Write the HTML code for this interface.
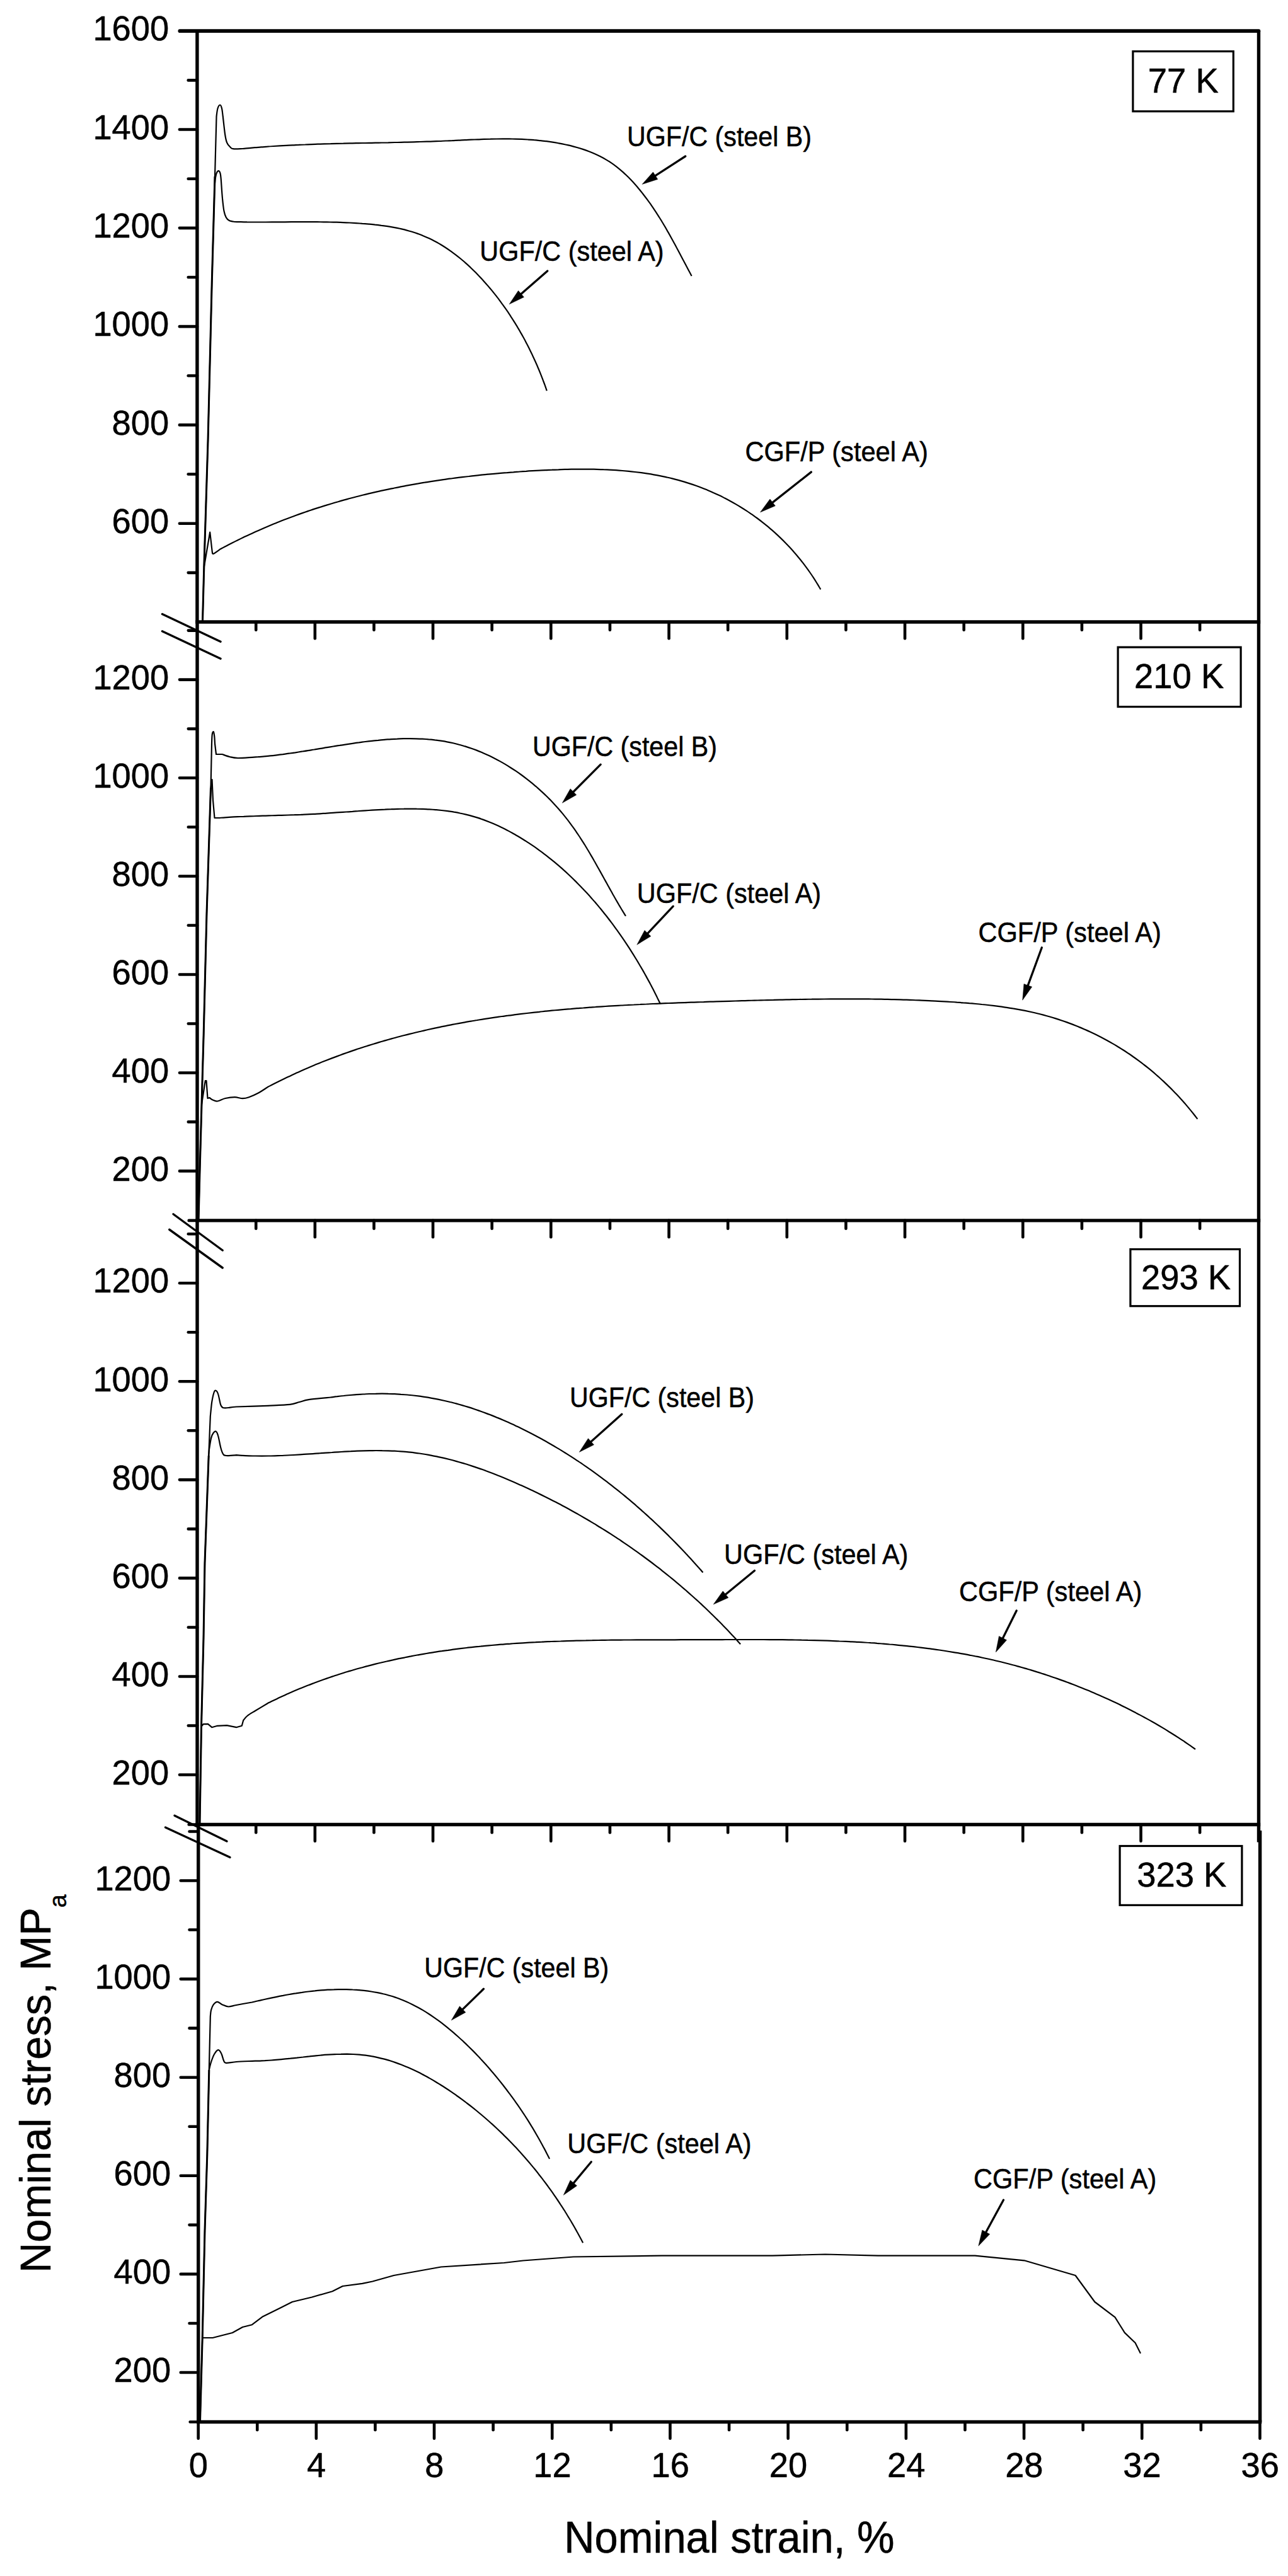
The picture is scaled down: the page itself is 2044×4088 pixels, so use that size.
<!DOCTYPE html>
<html lang="en"><head><meta charset="utf-8"><title>Nominal stress vs nominal strain</title>
<style>html,body{margin:0;padding:0;background:#fff}body{width:2044px;height:4088px;overflow:hidden}svg text{white-space:pre}</style>
</head><body>
<svg width="2044" height="4088" viewBox="0 0 2044 4088" style="display:block">
<rect width="2044" height="4088" fill="#fff"/>
<g id="curves">
<path d="M321.5,986.0L323.8,900.0L330.0,700.0L336.2,450.0L341.0,280.0L343.5,185.0C343.8,182.8 344.5,175.1 345.5,172.0C346.5,168.9 348.2,166.5 349.2,166.5C350.3,166.5 351.2,168.9 352.0,172.0C352.8,175.1 352.9,178.2 353.8,185.0C354.6,191.8 356.0,205.6 357.0,212.5C358.0,219.4 358.7,222.8 360.0,226.2C361.3,229.7 363.3,231.3 365.0,233.0C366.7,234.7 366.7,235.8 370.0,236.2C373.3,236.8 382.5,236.0 385.0,236.0C386.6,235.8 391.5,235.4 394.8,235.1C398.1,234.8 401.4,234.5 404.6,234.2C407.9,233.9 411.2,233.7 414.5,233.4C417.8,233.2 421.1,232.9 424.4,232.7C427.7,232.4 431.0,232.2 434.3,232.0C437.6,231.8 440.9,231.6 444.3,231.4C447.6,231.2 450.9,231.0 454.2,230.8C457.6,230.7 460.9,230.5 464.2,230.3C467.6,230.2 470.9,230.0 474.2,229.9C477.6,229.7 480.9,229.6 484.3,229.5C487.6,229.3 491.0,229.2 494.3,229.1C497.7,229.0 501.1,228.9 504.4,228.7C507.8,228.6 511.2,228.5 514.5,228.4C517.9,228.3 521.3,228.2 524.6,228.2C528.0,228.1 531.4,228.0 534.8,227.9C538.1,227.8 541.5,227.7 544.9,227.7C548.3,227.6 551.7,227.5 555.0,227.4C558.4,227.4 561.8,227.3 565.2,227.2C568.6,227.2 572.0,227.1 575.4,227.0C578.7,227.0 582.1,226.9 585.5,226.8C588.9,226.8 592.3,226.7 595.7,226.6C599.1,226.6 602.5,226.5 605.9,226.5C609.3,226.4 612.7,226.3 616.1,226.3C619.5,226.2 622.9,226.1 626.3,226.0C629.6,226.0 633.0,225.9 636.4,225.8C639.8,225.7 643.2,225.7 646.6,225.6C650.0,225.5 653.4,225.4 656.8,225.3C660.2,225.2 663.6,225.1 667.0,225.0C670.4,224.9 673.8,224.8 677.1,224.7C680.5,224.6 683.9,224.5 687.3,224.3C690.7,224.2 694.1,224.1 697.5,224.0C700.8,223.8 704.2,223.7 707.6,223.5C711.0,223.4 714.4,223.2 717.7,223.1C721.1,222.9 724.5,222.8 727.8,222.6C731.2,222.4 734.6,222.3 737.9,222.1C741.3,222.0 744.7,221.8 748.0,221.7C751.4,221.6 754.7,221.4 758.1,221.3C761.5,221.2 764.8,221.0 768.1,220.9C771.5,220.8 774.8,220.7 778.2,220.7C781.5,220.6 784.9,220.5 788.2,220.5C791.5,220.4 794.8,220.4 798.2,220.4C801.5,220.4 804.8,220.4 808.1,220.4C811.4,220.5 814.8,220.5 818.1,220.6C821.4,220.7 824.7,220.8 828.0,220.9C831.3,221.1 834.6,221.3 837.9,221.5C841.1,221.7 844.4,221.9 847.7,222.2C851.0,222.4 854.3,222.8 857.5,223.1C860.8,223.4 864.0,223.8 867.3,224.2C870.6,224.7 873.8,225.1 877.1,225.6C880.3,226.1 883.5,226.7 886.8,227.3C890.0,227.9 893.2,228.5 896.4,229.2C899.7,229.9 902.9,230.7 906.1,231.4C909.3,232.2 912.5,233.1 915.6,234.0C918.8,234.9 922.0,235.9 925.1,236.9C928.3,238.0 931.4,239.1 934.5,240.3C937.6,241.4 940.6,242.7 943.6,244.0C946.7,245.4 949.7,246.8 952.6,248.3C955.6,249.8 958.5,251.4 961.4,253.1C964.3,254.8 967.1,256.5 969.9,258.4C972.7,260.3 975.4,262.3 978.1,264.3C980.8,266.4 983.4,268.6 986.0,270.8C988.6,273.0 991.1,275.4 993.6,277.8C996.1,280.1 998.6,282.6 1000.9,285.1C1003.3,287.6 1005.7,290.2 1008.0,292.8C1010.3,295.4 1012.5,298.0 1014.7,300.7C1016.9,303.3 1019.0,306.0 1021.1,308.7C1023.2,311.4 1025.3,314.1 1027.3,316.9C1029.3,319.6 1031.2,322.3 1033.2,325.1C1035.1,327.8 1037.0,330.6 1038.8,333.4C1040.7,336.2 1042.5,339.0 1044.3,341.8C1046.1,344.6 1047.8,347.4 1049.6,350.2C1051.3,353.1 1053.0,355.9 1054.7,358.8C1056.4,361.6 1058.0,364.5 1059.6,367.4C1061.3,370.2 1062.9,373.1 1064.5,376.0C1066.1,378.9 1067.7,381.8 1069.3,384.7C1070.9,387.7 1072.5,390.6 1074.0,393.5C1075.6,396.4 1077.2,399.4 1078.7,402.3C1080.3,405.3 1081.8,408.2 1083.4,411.2C1085.0,414.1 1086.5,417.1 1088.1,420.1C1089.7,423.1 1091.2,426.0 1092.8,429.0C1094.4,432.0 1096.8,436.5 1097.6,438.0" fill="none" stroke="#000" stroke-width="2.2" stroke-linejoin="round" stroke-linecap="butt"/>
<path d="M340.6,295.0L341.6,284.0C341.9,282.5 342.7,277.1 343.6,275.0C344.5,272.9 345.8,271.2 346.8,271.2C347.7,271.2 348.8,272.7 349.5,275.0C350.2,277.3 350.2,278.3 350.8,285.0C351.3,291.7 352.2,306.7 353.0,315.0C353.8,323.3 354.5,330.0 355.5,335.0C356.5,340.0 357.4,342.5 358.8,345.0C360.1,347.5 361.5,348.8 363.8,350.0C366.0,351.2 371.0,351.7 372.5,352.0C374.1,352.0 378.9,352.2 382.2,352.2C385.4,352.3 388.7,352.3 392.0,352.4C395.2,352.4 398.5,352.4 401.8,352.5C405.1,352.5 408.4,352.5 411.8,352.5C415.1,352.5 418.4,352.5 421.8,352.5C425.1,352.5 428.5,352.5 431.8,352.4C435.2,352.4 438.6,352.4 441.9,352.4C445.3,352.4 448.7,352.3 452.1,352.3C455.5,352.3 458.9,352.3 462.3,352.2C465.7,352.2 469.1,352.2 472.5,352.2C475.9,352.2 479.4,352.2 482.8,352.2C486.2,352.1 489.6,352.1 493.0,352.2C496.5,352.2 499.9,352.2 503.3,352.2C506.8,352.2 510.2,352.3 513.6,352.3C517.0,352.4 520.5,352.4 523.9,352.5C527.3,352.6 530.8,352.6 534.2,352.7C537.6,352.8 541.0,352.9 544.4,353.1C547.8,353.2 551.3,353.4 554.7,353.5C558.1,353.7 561.5,353.9 564.9,354.1C568.3,354.3 571.7,354.5 575.0,354.8C578.4,355.0 581.8,355.3 585.2,355.6C588.5,355.9 591.9,356.2 595.2,356.6C598.6,356.9 601.9,357.3 605.2,357.8C608.5,358.2 611.8,358.7 615.1,359.2C618.4,359.7 621.7,360.3 624.9,360.9C628.2,361.5 631.4,362.1 634.6,362.8C637.9,363.6 641.1,364.3 644.2,365.1C647.4,366.0 650.5,366.9 653.7,367.8C656.8,368.8 659.9,369.8 663.0,370.9C666.0,372.0 669.1,373.1 672.1,374.4C675.1,375.6 678.1,376.9 681.0,378.3C684.0,379.7 686.9,381.2 689.8,382.7C692.7,384.2 695.6,385.9 698.4,387.5C701.2,389.2 704.0,390.9 706.8,392.7C709.6,394.5 712.3,396.4 715.0,398.3C717.7,400.3 720.4,402.2 723.1,404.3C725.7,406.3 728.4,408.4 730.9,410.5C733.5,412.7 736.1,414.9 738.6,417.1C741.2,419.3 743.7,421.6 746.1,423.9C748.6,426.3 751.0,428.6 753.4,431.0C755.8,433.4 758.2,435.9 760.6,438.4C762.9,440.8 765.2,443.3 767.5,445.9C769.8,448.4 772.1,451.0 774.3,453.6C776.5,456.2 778.7,458.8 780.9,461.4C783.0,464.1 785.2,466.8 787.3,469.4C789.4,472.1 791.5,474.8 793.5,477.6C795.5,480.3 797.5,483.1 799.5,485.9C801.5,488.6 803.5,491.4 805.4,494.2C807.3,497.1 809.2,499.9 811.0,502.8C812.9,505.6 814.7,508.5 816.5,511.4C818.3,514.3 820.1,517.2 821.8,520.1C823.6,523.0 825.3,525.9 826.9,528.9C828.6,531.8 830.2,534.8 831.9,537.8C833.5,540.7 835.0,543.7 836.6,546.7C838.1,549.7 839.7,552.7 841.1,555.8C842.6,558.8 844.1,561.8 845.5,564.9C846.9,567.9 848.3,570.9 849.7,574.0C851.1,577.0 852.4,580.1 853.7,583.2C855.0,586.2 856.3,589.3 857.5,592.4C858.7,595.5 859.9,598.6 861.1,601.6C862.3,604.7 863.4,607.8 864.6,610.9C865.7,614.0 867.3,618.7 867.8,620.2" fill="none" stroke="#000" stroke-width="2.2" stroke-linejoin="round" stroke-linecap="butt"/>
<path d="M323.8,900.0L333.2,844.5L336.8,876.0C337.1,876.5 336.6,879.5 338.8,878.8C340.9,878.0 348.1,872.5 350.0,871.2C351.5,870.5 356.0,868.0 359.0,866.5C362.0,864.9 365.1,863.3 368.1,861.8C371.1,860.3 374.1,858.8 377.2,857.3C380.2,855.8 383.2,854.3 386.3,852.8C389.3,851.4 392.4,849.9 395.5,848.5C398.5,847.1 401.6,845.7 404.6,844.3C407.7,842.9 410.8,841.5 413.9,840.2C417.0,838.8 420.0,837.5 423.1,836.2C426.2,834.9 429.3,833.6 432.4,832.3C435.5,831.0 438.6,829.8 441.8,828.5C444.9,827.3 448.0,826.1 451.1,824.8C454.2,823.6 457.4,822.4 460.5,821.3C463.6,820.1 466.8,818.9 469.9,817.8C473.1,816.6 476.2,815.5 479.4,814.4C482.5,813.3 485.7,812.2 488.8,811.1C492.0,810.0 495.2,809.0 498.3,807.9C501.5,806.9 504.7,805.9 507.9,804.9C511.0,803.8 514.2,802.8 517.4,801.9C520.6,800.9 523.8,799.9 527.0,799.0C530.2,798.0 533.4,797.1 536.6,796.2C539.8,795.2 543.0,794.3 546.3,793.4C549.5,792.5 552.7,791.7 555.9,790.8C559.2,789.9 562.4,789.1 565.6,788.3C568.9,787.4 572.1,786.6 575.3,785.8C578.6,785.0 581.8,784.2 585.1,783.4C588.3,782.7 591.6,781.9 594.8,781.1C598.1,780.4 601.4,779.7 604.6,778.9C607.9,778.2 611.2,777.5 614.4,776.8C617.7,776.1 621.0,775.4 624.3,774.8C627.6,774.1 630.8,773.4 634.1,772.8C637.4,772.2 640.7,771.5 644.0,770.9C647.3,770.3 650.6,769.7 653.9,769.1C657.2,768.5 660.5,767.9 663.8,767.4C667.1,766.8 670.5,766.2 673.8,765.7C677.1,765.1 680.4,764.6 683.7,764.1C687.0,763.6 690.4,763.1 693.7,762.6C697.0,762.1 700.4,761.6 703.7,761.1C707.0,760.6 710.4,760.2 713.7,759.7C717.1,759.3 720.4,758.8 723.7,758.4C727.1,758.0 730.4,757.6 733.8,757.1C737.1,756.7 740.5,756.3 743.9,756.0C747.2,755.6 750.6,755.2 753.9,754.8C757.3,754.5 760.7,754.1 764.0,753.7C767.4,753.4 770.8,753.1 774.1,752.7C777.5,752.4 780.9,752.1 784.3,751.8C787.7,751.5 791.0,751.2 794.4,750.9C797.8,750.6 801.2,750.3 804.6,750.1C808.0,749.8 811.3,749.5 814.7,749.3C818.1,749.0 821.5,748.8 824.9,748.5C828.3,748.3 831.7,748.1 835.1,747.9C838.5,747.6 841.9,747.4 845.3,747.2C848.7,747.0 852.1,746.8 855.5,746.6C858.9,746.5 862.3,746.3 865.8,746.1C869.2,746.0 872.6,745.8 876.0,745.7C879.4,745.5 882.8,745.4 886.2,745.3C889.6,745.1 893.0,745.0 896.4,744.9C899.9,744.9 903.3,744.8 906.7,744.7C910.1,744.7 913.5,744.6 916.9,744.6C920.3,744.6 923.7,744.5 927.1,744.6C930.5,744.6 933.9,744.6 937.3,744.6C940.7,744.7 944.1,744.7 947.4,744.8C950.8,744.9 954.2,745.0 957.6,745.2C961.0,745.3 964.3,745.4 967.7,745.6C971.1,745.8 974.4,746.0 977.8,746.2C981.2,746.5 984.5,746.7 987.9,747.0C991.2,747.3 994.5,747.6 997.9,747.9C1001.2,748.2 1004.5,748.6 1007.8,749.0C1011.2,749.4 1014.5,749.8 1017.8,750.2C1021.1,750.7 1024.4,751.2 1027.7,751.7C1031.0,752.2 1034.2,752.7 1037.5,753.3C1040.8,753.9 1044.0,754.5 1047.3,755.1C1050.5,755.8 1053.8,756.5 1057.0,757.2C1060.2,757.9 1063.5,758.6 1066.7,759.4C1069.9,760.2 1073.1,761.0 1076.3,761.9C1079.4,762.8 1082.6,763.7 1085.8,764.6C1088.9,765.6 1092.1,766.6 1095.2,767.6C1098.4,768.6 1101.5,769.7 1104.6,770.8C1107.7,771.9 1110.8,773.0 1113.9,774.2C1117.0,775.4 1120.1,776.7 1123.1,777.9C1126.2,779.2 1129.2,780.5 1132.2,781.9C1135.3,783.2 1138.3,784.6 1141.3,786.1C1144.3,787.5 1147.2,789.0 1150.2,790.5C1153.1,792.0 1156.1,793.6 1159.0,795.2C1161.9,796.8 1164.8,798.4 1167.7,800.1C1170.5,801.8 1173.4,803.5 1176.2,805.2C1179.1,807.0 1181.9,808.8 1184.7,810.6C1187.5,812.4 1190.2,814.3 1193.0,816.2C1195.7,818.1 1198.4,820.1 1201.1,822.0C1203.8,824.0 1206.5,826.0 1209.1,828.1C1211.8,830.2 1214.4,832.3 1217.0,834.4C1219.6,836.5 1222.1,838.7 1224.7,840.9C1227.2,843.1 1229.7,845.3 1232.2,847.6C1234.7,849.9 1237.1,852.2 1239.6,854.6C1242.0,856.9 1244.4,859.3 1246.7,861.7C1249.1,864.1 1251.4,866.6 1253.7,869.1C1256.0,871.6 1258.3,874.1 1260.5,876.7C1262.8,879.2 1265.0,881.8 1267.1,884.5C1269.3,887.1 1271.4,889.7 1273.5,892.4C1275.6,895.1 1277.7,897.9 1279.7,900.6C1281.8,903.4 1283.8,906.2 1285.7,909.0C1287.7,911.9 1289.6,914.7 1291.5,917.6C1293.4,920.5 1295.2,923.5 1297.0,926.4C1298.8,929.4 1301.4,933.9 1302.3,935.4" fill="none" stroke="#000" stroke-width="2.2" stroke-linejoin="round" stroke-linecap="butt"/>
<path d="M315.0,1937.0L317.0,1860.0L320.0,1752.5L323.2,1640.0L328.0,1450.0L334.5,1250.0L336.0,1180.0C336.1,1177.5 336.3,1168.1 336.8,1165.0C337.3,1161.9 338.2,1160.8 338.8,1161.2C339.3,1161.8 339.8,1164.9 340.2,1168.0C340.6,1171.1 340.9,1178.0 341.0,1180.0L343.0,1197.0L352.5,1197.0C354.6,1197.7 360.8,1200.2 365.0,1201.2C369.2,1202.2 371.7,1202.9 377.5,1203.0C383.3,1203.1 396.2,1202.0 400.0,1201.8C401.6,1201.7 406.4,1201.4 409.6,1201.2C412.8,1200.9 416.1,1200.7 419.3,1200.4C422.6,1200.1 425.8,1199.8 429.1,1199.4C432.3,1199.1 435.6,1198.7 438.9,1198.3C442.2,1197.9 445.4,1197.5 448.7,1197.1C452.0,1196.6 455.3,1196.2 458.6,1195.7C462.0,1195.2 465.3,1194.7 468.6,1194.3C471.9,1193.8 475.3,1193.2 478.6,1192.7C481.9,1192.2 485.3,1191.7 488.6,1191.1C492.0,1190.6 495.3,1190.0 498.7,1189.5C502.0,1188.9 505.4,1188.4 508.8,1187.8C512.1,1187.3 515.5,1186.7 518.9,1186.2C522.3,1185.6 525.6,1185.1 529.0,1184.5C532.4,1184.0 535.8,1183.4 539.2,1182.9C542.5,1182.3 545.9,1181.8 549.3,1181.3C552.7,1180.8 556.1,1180.3 559.5,1179.8C562.8,1179.3 566.2,1178.8 569.6,1178.4C573.0,1177.9 576.4,1177.5 579.8,1177.0C583.2,1176.6 586.5,1176.2 589.9,1175.8C593.3,1175.4 596.7,1175.1 600.1,1174.8C603.4,1174.4 606.8,1174.1 610.2,1173.8C613.5,1173.6 616.9,1173.3 620.3,1173.1C623.6,1172.9 627.0,1172.7 630.3,1172.6C633.7,1172.4 637.0,1172.3 640.4,1172.2C643.7,1172.2 647.0,1172.1 650.4,1172.1C653.7,1172.1 657.0,1172.2 660.3,1172.3C663.7,1172.4 667.0,1172.5 670.3,1172.7C673.6,1172.9 676.9,1173.1 680.1,1173.4C683.4,1173.6 686.7,1174.0 690.0,1174.4C693.2,1174.7 696.5,1175.2 699.7,1175.7C703.0,1176.2 706.2,1176.7 709.4,1177.3C712.7,1177.9 715.9,1178.6 719.1,1179.3C722.3,1180.0 725.5,1180.8 728.6,1181.7C731.8,1182.5 735.0,1183.5 738.1,1184.4C741.3,1185.4 744.4,1186.4 747.5,1187.5C750.7,1188.6 753.8,1189.7 756.9,1190.9C760.0,1192.1 763.0,1193.4 766.1,1194.7C769.1,1196.0 772.2,1197.4 775.2,1198.8C778.2,1200.2 781.2,1201.7 784.2,1203.2C787.1,1204.7 790.1,1206.3 793.0,1207.9C796.0,1209.5 798.9,1211.2 801.8,1212.9C804.6,1214.6 807.5,1216.4 810.3,1218.2C813.2,1220.0 816.0,1221.8 818.8,1223.7C821.6,1225.6 824.3,1227.5 827.1,1229.5C829.8,1231.5 832.5,1233.5 835.2,1235.6C837.8,1237.6 840.5,1239.7 843.1,1241.8C845.7,1244.0 848.3,1246.1 850.9,1248.3C853.4,1250.6 856.0,1252.8 858.4,1255.1C860.9,1257.3 863.4,1259.7 865.8,1262.0C868.2,1264.3 870.6,1266.7 873.0,1269.1C875.3,1271.5 877.6,1274.0 879.9,1276.4C882.2,1278.9 884.5,1281.4 886.7,1283.9C888.9,1286.5 891.0,1289.0 893.2,1291.6C895.3,1294.2 897.4,1296.8 899.4,1299.4C901.5,1302.0 903.5,1304.7 905.4,1307.3C907.4,1310.0 909.4,1312.7 911.3,1315.4C913.2,1318.1 915.0,1320.8 916.9,1323.6C918.7,1326.3 920.6,1329.1 922.3,1331.9C924.1,1334.7 925.9,1337.5 927.7,1340.3C929.4,1343.1 931.1,1346.0 932.8,1348.8C934.5,1351.6 936.2,1354.5 937.9,1357.4C939.6,1360.2 941.3,1363.1 942.9,1366.0C944.6,1368.9 946.2,1371.8 947.8,1374.7C949.5,1377.6 951.1,1380.5 952.7,1383.4C954.4,1386.4 956.0,1389.3 957.6,1392.2C959.2,1395.2 960.9,1398.1 962.5,1401.0C964.1,1404.0 965.7,1406.9 967.4,1409.9C969.0,1412.8 970.7,1415.7 972.3,1418.7C974.0,1421.6 975.7,1424.6 977.3,1427.5C979.0,1430.4 980.7,1433.4 982.4,1436.3C984.2,1439.2 985.9,1442.2 987.7,1445.1C989.4,1448.0 992.1,1452.3 993.0,1453.8" fill="none" stroke="#000" stroke-width="2.2" stroke-linejoin="round" stroke-linecap="butt"/>
<path d="M334.5,1250.0L336.5,1237.0L338.0,1270.0L340.5,1298.0L347.5,1298.0C349.1,1297.9 354.0,1297.5 357.2,1297.3C360.4,1297.1 363.7,1296.9 367.0,1296.7C370.2,1296.6 373.5,1296.4 376.8,1296.2C380.1,1296.1 383.4,1295.9 386.7,1295.8C390.0,1295.6 393.3,1295.5 396.6,1295.4C399.9,1295.3 403.2,1295.2 406.5,1295.0C409.9,1294.9 413.2,1294.8 416.6,1294.7C419.9,1294.6 423.3,1294.5 426.6,1294.4C430.0,1294.3 433.3,1294.2 436.7,1294.1C440.1,1294.0 443.4,1293.9 446.8,1293.8C450.2,1293.7 453.6,1293.6 457.0,1293.5C460.4,1293.4 463.8,1293.3 467.2,1293.2C470.6,1293.0 474.0,1292.9 477.4,1292.8C480.8,1292.6 484.2,1292.5 487.6,1292.3C491.0,1292.2 494.4,1292.0 497.8,1291.8C501.3,1291.6 504.7,1291.5 508.1,1291.3C511.5,1291.1 514.9,1290.8 518.4,1290.6C521.8,1290.4 525.2,1290.2 528.6,1289.9C532.1,1289.7 535.5,1289.5 538.9,1289.2C542.3,1289.0 545.8,1288.7 549.2,1288.5C552.6,1288.2 556.0,1288.0 559.4,1287.8C562.9,1287.5 566.3,1287.3 569.7,1287.0C573.1,1286.8 576.5,1286.6 580.0,1286.3C583.4,1286.1 586.8,1285.9 590.2,1285.7C593.6,1285.5 597.0,1285.3 600.4,1285.1C603.8,1284.9 607.2,1284.7 610.6,1284.6C614.0,1284.4 617.4,1284.3 620.8,1284.2C624.2,1284.0 627.6,1283.9 630.9,1283.8C634.3,1283.8 637.7,1283.7 641.0,1283.7C644.4,1283.6 647.8,1283.6 651.1,1283.6C654.5,1283.6 657.8,1283.6 661.2,1283.7C664.5,1283.7 667.8,1283.8 671.2,1283.9C674.5,1284.1 677.8,1284.2 681.1,1284.4C684.4,1284.6 687.7,1284.8 691.0,1285.1C694.3,1285.4 697.6,1285.7 700.9,1286.0C704.1,1286.4 707.4,1286.8 710.7,1287.2C713.9,1287.7 717.1,1288.1 720.4,1288.7C723.6,1289.2 726.8,1289.8 730.0,1290.5C733.2,1291.1 736.4,1291.8 739.6,1292.6C742.8,1293.4 745.9,1294.2 749.1,1295.1C752.3,1296.0 755.4,1296.9 758.5,1297.9C761.6,1298.9 764.8,1300.0 767.8,1301.1C770.9,1302.3 774.0,1303.5 777.1,1304.7C780.2,1305.9 783.2,1307.2 786.2,1308.6C789.3,1309.9 792.3,1311.3 795.3,1312.8C798.3,1314.2 801.3,1315.7 804.2,1317.2C807.2,1318.8 810.1,1320.3 813.1,1322.0C816.0,1323.6 818.9,1325.3 821.8,1327.0C824.7,1328.7 827.5,1330.4 830.4,1332.2C833.2,1333.9 836.0,1335.8 838.9,1337.6C841.7,1339.5 844.4,1341.3 847.2,1343.2C850.0,1345.1 852.7,1347.1 855.4,1349.1C858.2,1351.0 860.9,1353.0 863.5,1355.1C866.2,1357.1 868.9,1359.2 871.5,1361.3C874.2,1363.4 876.8,1365.5 879.4,1367.6C882.0,1369.8 884.5,1372.0 887.1,1374.2C889.7,1376.4 892.2,1378.6 894.7,1380.9C897.2,1383.1 899.7,1385.4 902.2,1387.7C904.6,1390.0 907.1,1392.4 909.5,1394.7C911.9,1397.1 914.4,1399.5 916.7,1401.9C919.1,1404.3 921.5,1406.7 923.8,1409.2C926.2,1411.6 928.5,1414.1 930.8,1416.6C933.1,1419.1 935.4,1421.6 937.7,1424.2C939.9,1426.7 942.1,1429.3 944.4,1431.8C946.6,1434.4 948.8,1437.0 951.0,1439.6C953.1,1442.2 955.3,1444.9 957.4,1447.5C959.5,1450.2 961.7,1452.8 963.8,1455.5C965.8,1458.2 967.9,1460.9 970.0,1463.6C972.0,1466.3 974.0,1469.1 976.0,1471.8C978.0,1474.6 980.0,1477.3 982.0,1480.1C984.0,1482.9 985.9,1485.6 987.8,1488.4C989.7,1491.2 991.6,1494.0 993.5,1496.9C995.4,1499.7 997.2,1502.5 999.1,1505.4C1000.9,1508.2 1002.7,1511.1 1004.5,1513.9C1006.3,1516.8 1008.1,1519.7 1009.8,1522.5C1011.6,1525.4 1013.3,1528.3 1015.0,1531.2C1016.7,1534.1 1018.4,1537.0 1020.1,1539.9C1021.7,1542.8 1023.4,1545.7 1025.0,1548.6C1026.6,1551.6 1028.2,1554.5 1029.8,1557.4C1031.4,1560.3 1032.9,1563.3 1034.5,1566.2C1036.0,1569.1 1037.5,1572.1 1039.0,1575.0C1040.5,1578.0 1042.0,1580.9 1043.4,1583.9C1044.9,1586.8 1047.0,1591.2 1047.7,1592.7" fill="none" stroke="#000" stroke-width="2.2" stroke-linejoin="round" stroke-linecap="butt"/>
<path d="M320.0,1752.5L325.8,1715.0L327.5,1715.0L329.5,1743.0L332.5,1742.0C333.3,1742.6 335.4,1744.6 337.5,1745.5C339.6,1746.4 341.7,1747.9 345.0,1747.5C348.3,1747.1 352.9,1744.0 357.5,1743.0C362.1,1742.0 367.9,1741.2 372.5,1741.2C377.1,1741.3 381.2,1743.2 385.0,1743.2C388.8,1743.2 390.8,1742.7 395.0,1741.2C399.2,1739.8 405.0,1737.2 410.0,1734.5C415.0,1731.8 422.5,1726.6 425.0,1725.0C426.5,1724.2 431.1,1721.9 434.1,1720.3C437.1,1718.8 440.2,1717.2 443.2,1715.7C446.3,1714.2 449.3,1712.7 452.4,1711.2C455.5,1709.8 458.5,1708.3 461.6,1706.9C464.7,1705.5 467.7,1704.0 470.8,1702.6C473.9,1701.2 477.0,1699.9 480.0,1698.5C483.1,1697.1 486.2,1695.8 489.3,1694.5C492.4,1693.1 495.5,1691.8 498.6,1690.5C501.7,1689.2 504.8,1688.0 507.9,1686.7C511.0,1685.5 514.1,1684.2 517.2,1683.0C520.4,1681.8 523.5,1680.6 526.6,1679.4C529.7,1678.2 532.8,1677.0 536.0,1675.9C539.1,1674.7 542.2,1673.6 545.4,1672.4C548.5,1671.3 551.7,1670.2 554.8,1669.1C557.9,1668.0 561.1,1666.9 564.2,1665.9C567.4,1664.8 570.6,1663.8 573.7,1662.8C576.9,1661.7 580.0,1660.7 583.2,1659.7C586.4,1658.7 589.5,1657.7 592.7,1656.8C595.9,1655.8 599.1,1654.8 602.2,1653.9C605.4,1653.0 608.6,1652.0 611.8,1651.1C615.0,1650.2 618.2,1649.3 621.4,1648.4C624.5,1647.5 627.7,1646.7 630.9,1645.8C634.1,1645.0 637.3,1644.1 640.5,1643.3C643.7,1642.5 647.0,1641.7 650.2,1640.9C653.4,1640.1 656.6,1639.3 659.8,1638.5C663.0,1637.7 666.2,1637.0 669.5,1636.2C672.7,1635.5 675.9,1634.7 679.1,1634.0C682.4,1633.3 685.6,1632.6 688.8,1631.9C692.1,1631.2 695.3,1630.5 698.6,1629.8C701.8,1629.2 705.0,1628.5 708.3,1627.9C711.5,1627.2 714.8,1626.6 718.0,1625.9C721.3,1625.3 724.5,1624.7 727.8,1624.1C731.0,1623.5 734.3,1622.9 737.6,1622.3C740.8,1621.7 744.1,1621.2 747.3,1620.6C750.6,1620.1 753.9,1619.5 757.1,1619.0C760.4,1618.4 763.7,1617.9 767.0,1617.4C770.2,1616.9 773.5,1616.4 776.8,1615.9C780.1,1615.4 783.4,1614.9 786.6,1614.4C789.9,1613.9 793.2,1613.5 796.5,1613.0C799.8,1612.6 803.1,1612.1 806.4,1611.7C809.7,1611.2 813.0,1610.8 816.2,1610.4C819.5,1610.0 822.8,1609.6 826.1,1609.2C829.4,1608.8 832.7,1608.4 836.0,1608.0C839.4,1607.6 842.7,1607.2 846.0,1606.8C849.3,1606.5 852.6,1606.1 855.9,1605.8C859.2,1605.4 862.5,1605.1 865.8,1604.7C869.1,1604.4 872.5,1604.1 875.8,1603.7C879.1,1603.4 882.4,1603.1 885.7,1602.8C889.1,1602.5 892.4,1602.2 895.7,1601.9C899.0,1601.6 902.4,1601.3 905.7,1601.1C909.0,1600.8 912.3,1600.5 915.7,1600.2C919.0,1600.0 922.3,1599.7 925.7,1599.5C929.0,1599.2 932.3,1599.0 935.7,1598.7C939.0,1598.5 942.3,1598.2 945.7,1598.0C949.0,1597.8 952.4,1597.6 955.7,1597.3C959.0,1597.1 962.4,1596.9 965.7,1596.7C969.1,1596.5 972.4,1596.3 975.7,1596.1C979.1,1595.9 982.4,1595.7 985.8,1595.5C989.1,1595.3 992.5,1595.2 995.8,1595.0C999.2,1594.8 1002.5,1594.6 1005.9,1594.5C1009.2,1594.3 1012.6,1594.1 1015.9,1594.0C1019.3,1593.8 1022.6,1593.6 1026.0,1593.5C1029.3,1593.3 1032.7,1593.2 1036.1,1593.0C1039.4,1592.9 1042.8,1592.8 1046.1,1592.6C1049.5,1592.5 1052.8,1592.3 1056.2,1592.2C1059.5,1592.1 1062.9,1591.9 1066.3,1591.8C1069.6,1591.7 1073.0,1591.6 1076.3,1591.4C1079.7,1591.3 1083.1,1591.2 1086.4,1591.1C1089.8,1591.0 1093.1,1590.8 1096.5,1590.7C1099.9,1590.6 1103.2,1590.5 1106.6,1590.4C1110.0,1590.3 1113.3,1590.2 1116.7,1590.1C1120.0,1589.9 1123.4,1589.8 1126.8,1589.7C1130.1,1589.6 1133.5,1589.5 1136.8,1589.4C1140.2,1589.3 1143.6,1589.2 1146.9,1589.1C1150.3,1589.0 1153.7,1588.9 1157.0,1588.8C1160.4,1588.7 1163.8,1588.6 1167.1,1588.5C1170.5,1588.4 1173.8,1588.3 1177.2,1588.2C1180.6,1588.1 1183.9,1588.0 1187.3,1587.9C1190.7,1587.8 1194.0,1587.7 1197.4,1587.6C1200.7,1587.5 1204.1,1587.5 1207.5,1587.4C1210.8,1587.3 1214.2,1587.2 1217.5,1587.1C1220.9,1587.0 1224.3,1586.9 1227.6,1586.9C1231.0,1586.8 1234.4,1586.7 1237.7,1586.6C1241.1,1586.6 1244.4,1586.5 1247.8,1586.4C1251.2,1586.3 1254.5,1586.3 1257.9,1586.2C1261.2,1586.1 1264.6,1586.1 1267.9,1586.0C1271.3,1586.0 1274.7,1585.9 1278.0,1585.8C1281.4,1585.8 1284.7,1585.7 1288.1,1585.7C1291.4,1585.6 1294.8,1585.6 1298.2,1585.6C1301.5,1585.5 1304.9,1585.5 1308.2,1585.5C1311.6,1585.4 1314.9,1585.4 1318.3,1585.4C1321.6,1585.4 1325.0,1585.3 1328.3,1585.3C1331.7,1585.3 1335.0,1585.3 1338.4,1585.3C1341.7,1585.3 1345.1,1585.3 1348.4,1585.3C1351.8,1585.3 1355.1,1585.3 1358.5,1585.3C1361.8,1585.3 1365.2,1585.3 1368.5,1585.4C1371.9,1585.4 1375.2,1585.4 1378.6,1585.4C1381.9,1585.5 1385.3,1585.5 1388.6,1585.6C1391.9,1585.6 1395.3,1585.7 1398.6,1585.7C1402.0,1585.8 1405.3,1585.8 1408.7,1585.9C1412.0,1586.0 1415.3,1586.1 1418.7,1586.1C1422.0,1586.2 1425.3,1586.3 1428.7,1586.4C1432.0,1586.5 1435.4,1586.6 1438.7,1586.7C1442.0,1586.8 1445.4,1586.9 1448.7,1587.0C1452.0,1587.2 1455.3,1587.3 1458.7,1587.4C1462.0,1587.6 1465.3,1587.7 1468.7,1587.8C1472.0,1588.0 1475.3,1588.2 1478.6,1588.3C1482.0,1588.5 1485.3,1588.7 1488.6,1588.8C1491.9,1589.0 1495.3,1589.2 1498.6,1589.4C1501.9,1589.6 1505.2,1589.8 1508.5,1590.0C1511.9,1590.2 1515.2,1590.4 1518.5,1590.7C1521.8,1590.9 1525.1,1591.1 1528.4,1591.4C1531.7,1591.6 1535.1,1591.9 1538.4,1592.2C1541.7,1592.4 1545.0,1592.7 1548.3,1593.0C1551.6,1593.3 1554.9,1593.6 1558.2,1594.0C1561.5,1594.3 1564.8,1594.6 1568.1,1595.0C1571.3,1595.4 1574.6,1595.8 1577.9,1596.2C1581.2,1596.6 1584.5,1597.0 1587.7,1597.4C1591.0,1597.9 1594.3,1598.3 1597.5,1598.8C1600.8,1599.3 1604.1,1599.8 1607.3,1600.4C1610.6,1600.9 1613.8,1601.5 1617.0,1602.1C1620.3,1602.7 1623.5,1603.3 1626.7,1603.9C1630.0,1604.6 1633.2,1605.3 1636.4,1606.0C1639.6,1606.7 1642.8,1607.4 1646.0,1608.2C1649.2,1609.0 1652.4,1609.8 1655.6,1610.6C1658.8,1611.5 1661.9,1612.4 1665.1,1613.3C1668.3,1614.2 1671.4,1615.1 1674.6,1616.1C1677.7,1617.1 1680.8,1618.1 1684.0,1619.2C1687.1,1620.2 1690.2,1621.3 1693.3,1622.4C1696.4,1623.6 1699.5,1624.7 1702.6,1625.9C1705.7,1627.1 1708.7,1628.3 1711.8,1629.6C1714.9,1630.8 1717.9,1632.1 1720.9,1633.4C1724.0,1634.8 1727.0,1636.1 1730.0,1637.5C1733.0,1638.9 1736.0,1640.3 1739.0,1641.8C1741.9,1643.3 1744.9,1644.8 1747.8,1646.3C1750.8,1647.8 1753.7,1649.4 1756.6,1651.0C1759.5,1652.6 1762.4,1654.2 1765.3,1655.9C1768.2,1657.5 1771.1,1659.2 1773.9,1661.0C1776.8,1662.7 1779.6,1664.5 1782.4,1666.3C1785.2,1668.1 1788.0,1669.9 1790.8,1671.8C1793.6,1673.6 1796.3,1675.5 1799.0,1677.5C1801.8,1679.4 1804.5,1681.4 1807.2,1683.4C1809.9,1685.4 1812.6,1687.4 1815.2,1689.5C1817.9,1691.5 1820.5,1693.6 1823.1,1695.7C1825.7,1697.8 1828.3,1700.0 1830.9,1702.2C1833.4,1704.4 1836.0,1706.6 1838.5,1708.8C1841.0,1711.1 1843.5,1713.3 1846.0,1715.6C1848.4,1717.9 1850.9,1720.3 1853.3,1722.6C1855.7,1725.0 1858.1,1727.3 1860.5,1729.7C1862.9,1732.2 1865.2,1734.6 1867.6,1737.1C1869.9,1739.5 1872.2,1742.0 1874.4,1744.5C1876.7,1747.0 1878.9,1749.6 1881.2,1752.1C1883.4,1754.7 1885.6,1757.3 1887.7,1759.9C1889.9,1762.5 1892.0,1765.1 1894.1,1767.8C1896.2,1770.4 1899.3,1774.5 1900.3,1775.8" fill="none" stroke="#000" stroke-width="2.2" stroke-linejoin="round" stroke-linecap="butt"/>
<path d="M317.0,2895.0L319.5,2740.0L323.0,2600.0L325.0,2480.0L331.2,2310.0L333.8,2247.5C334.2,2243.8 335.3,2231.2 336.2,2225.0C337.2,2218.8 338.5,2213.0 339.5,2210.0C340.5,2207.0 341.4,2206.3 342.5,2206.8C343.6,2207.2 345.0,2208.8 346.2,2212.5C347.5,2216.2 348.8,2225.2 350.0,2228.8C351.2,2232.3 351.7,2233.1 353.8,2234.0C355.8,2234.9 359.0,2234.2 362.5,2234.0C366.0,2233.8 364.6,2233.0 375.0,2232.5C385.4,2232.0 410.8,2231.4 425.0,2230.8C439.2,2230.1 451.7,2229.7 460.0,2228.8C468.3,2227.8 470.0,2226.2 475.0,2225.0C480.0,2223.8 481.7,2222.5 490.0,2221.2C498.3,2220.0 519.2,2218.1 525.0,2217.5C526.7,2217.3 531.8,2216.6 535.3,2216.2C538.7,2215.7 542.1,2215.3 545.5,2215.0C548.9,2214.6 552.3,2214.3 555.7,2214.0C559.1,2213.7 562.5,2213.4 565.9,2213.1C569.3,2212.9 572.6,2212.7 576.0,2212.5C579.4,2212.3 582.8,2212.2 586.1,2212.0C589.5,2211.9 592.8,2211.8 596.2,2211.8C599.6,2211.7 602.9,2211.7 606.2,2211.7C609.6,2211.7 612.9,2211.8 616.3,2211.9C619.6,2211.9 622.9,2212.1 626.2,2212.2C629.5,2212.4 632.9,2212.5 636.2,2212.8C639.5,2213.0 642.8,2213.2 646.1,2213.5C649.4,2213.8 652.6,2214.2 655.9,2214.5C659.2,2214.9 662.5,2215.3 665.7,2215.7C669.0,2216.2 672.3,2216.6 675.5,2217.1C678.8,2217.6 682.0,2218.2 685.3,2218.8C688.5,2219.4 691.7,2220.0 695.0,2220.6C698.2,2221.3 701.4,2222.0 704.6,2222.7C707.8,2223.4 711.1,2224.2 714.3,2225.0C717.4,2225.7 720.6,2226.6 723.8,2227.4C727.0,2228.3 730.2,2229.2 733.4,2230.1C736.5,2231.0 739.7,2232.0 742.8,2232.9C746.0,2233.9 749.1,2234.9 752.3,2236.0C755.4,2237.0 758.5,2238.1 761.7,2239.2C764.8,2240.3 767.9,2241.4 771.0,2242.6C774.1,2243.7 777.2,2244.9 780.3,2246.1C783.4,2247.3 786.5,2248.6 789.5,2249.9C792.6,2251.1 795.7,2252.4 798.7,2253.7C801.8,2255.0 804.8,2256.4 807.9,2257.8C810.9,2259.1 813.9,2260.5 817.0,2261.9C820.0,2263.3 823.0,2264.8 826.0,2266.2C829.0,2267.7 832.0,2269.2 835.0,2270.7C838.0,2272.2 840.9,2273.7 843.9,2275.3C846.9,2276.8 849.8,2278.4 852.8,2280.0C855.7,2281.5 858.7,2283.1 861.6,2284.8C864.5,2286.4 867.4,2288.0 870.3,2289.7C873.3,2291.4 876.2,2293.1 879.0,2294.8C881.9,2296.5 884.8,2298.2 887.7,2299.9C890.6,2301.7 893.4,2303.5 896.3,2305.2C899.1,2307.0 902.0,2308.8 904.8,2310.6C907.6,2312.4 910.4,2314.3 913.3,2316.1C916.1,2318.0 918.9,2319.8 921.7,2321.7C924.4,2323.6 927.2,2325.5 930.0,2327.4C932.8,2329.4 935.5,2331.3 938.3,2333.2C941.0,2335.2 943.7,2337.2 946.5,2339.1C949.2,2341.1 951.9,2343.1 954.6,2345.1C957.3,2347.2 960.0,2349.2 962.7,2351.2C965.4,2353.3 968.0,2355.3 970.7,2357.4C973.3,2359.5 976.0,2361.6 978.6,2363.7C981.3,2365.8 983.9,2367.9 986.5,2370.0C989.1,2372.1 991.7,2374.3 994.3,2376.4C996.9,2378.6 999.5,2380.7 1002.0,2382.9C1004.6,2385.1 1007.2,2387.3 1009.7,2389.5C1012.2,2391.7 1014.8,2393.9 1017.3,2396.1C1019.8,2398.4 1022.3,2400.6 1024.8,2402.9C1027.3,2405.1 1029.8,2407.4 1032.2,2409.7C1034.7,2411.9 1037.2,2414.2 1039.6,2416.5C1042.1,2418.8 1044.5,2421.1 1046.9,2423.4C1049.3,2425.7 1051.7,2428.1 1054.1,2430.4C1056.5,2432.7 1058.9,2435.1 1061.3,2437.4C1063.6,2439.8 1066.0,2442.1 1068.3,2444.5C1070.7,2446.9 1073.0,2449.3 1075.3,2451.6C1077.6,2454.0 1079.9,2456.4 1082.2,2458.8C1084.5,2461.2 1086.8,2463.6 1089.0,2466.1C1091.3,2468.5 1093.5,2470.9 1095.8,2473.3C1098.0,2475.8 1100.2,2478.2 1102.4,2480.7C1104.6,2483.1 1106.8,2485.5 1109.0,2488.0C1111.2,2490.5 1114.4,2494.2 1115.5,2495.4" fill="none" stroke="#000" stroke-width="2.2" stroke-linejoin="round" stroke-linecap="butt"/>
<path d="M331.2,2310.0L332.0,2300.0C332.5,2297.1 333.9,2286.9 335.0,2282.5C336.1,2278.1 337.4,2275.5 338.8,2273.8C340.1,2272.0 341.8,2270.9 343.0,2271.8C344.2,2272.6 345.1,2274.7 346.2,2278.8C347.4,2282.8 348.8,2291.5 350.0,2296.2C351.2,2301.0 352.3,2304.7 353.8,2307.0C355.2,2309.3 355.2,2309.6 358.8,2310.0C362.3,2310.4 372.3,2309.4 375.0,2309.2C376.7,2309.4 381.8,2309.7 385.1,2309.9C388.5,2310.1 391.9,2310.2 395.3,2310.3C398.6,2310.4 402.0,2310.5 405.4,2310.5C408.8,2310.6 412.2,2310.6 415.5,2310.6C418.9,2310.6 422.3,2310.6 425.7,2310.5C429.0,2310.5 432.4,2310.4 435.8,2310.3C439.2,2310.2 442.5,2310.1 445.9,2310.0C449.3,2309.8 452.7,2309.7 456.0,2309.5C459.4,2309.4 462.8,2309.2 466.1,2309.0C469.5,2308.8 472.9,2308.6 476.2,2308.4C479.6,2308.2 483.0,2308.0 486.3,2307.7C489.7,2307.5 493.0,2307.3 496.4,2307.1C499.8,2306.8 503.1,2306.6 506.5,2306.3C509.8,2306.1 513.2,2305.9 516.5,2305.6C519.9,2305.4 523.2,2305.2 526.6,2305.0C529.9,2304.7 533.3,2304.5 536.6,2304.3C540.0,2304.1 543.3,2303.9 546.7,2303.7C550.0,2303.5 553.3,2303.3 556.7,2303.2C560.0,2303.0 563.3,2302.8 566.7,2302.7C570.0,2302.6 573.3,2302.5 576.6,2302.4C580.0,2302.3 583.3,2302.2 586.6,2302.1C589.9,2302.1 593.2,2302.0 596.5,2302.0C599.9,2302.0 603.2,2302.0 606.5,2302.1C609.8,2302.1 613.1,2302.2 616.4,2302.3C619.7,2302.4 623.0,2302.5 626.2,2302.7C629.5,2302.9 632.8,2303.1 636.1,2303.3C639.4,2303.5 642.7,2303.8 646.0,2304.1C649.2,2304.5 652.5,2304.8 655.8,2305.2C659.0,2305.6 662.3,2306.0 665.6,2306.5C668.8,2307.0 672.1,2307.5 675.3,2308.0C678.6,2308.6 681.8,2309.2 685.1,2309.8C688.3,2310.4 691.5,2311.1 694.8,2311.8C698.0,2312.5 701.2,2313.2 704.5,2313.9C707.7,2314.7 710.9,2315.5 714.1,2316.3C717.3,2317.1 720.5,2318.0 723.7,2318.9C726.9,2319.8 730.1,2320.7 733.3,2321.6C736.5,2322.6 739.7,2323.5 742.9,2324.5C746.1,2325.5 749.3,2326.6 752.4,2327.6C755.6,2328.7 758.8,2329.8 761.9,2330.9C765.1,2332.0 768.3,2333.1 771.4,2334.3C774.6,2335.4 777.7,2336.6 780.8,2337.8C784.0,2339.0 787.1,2340.2 790.2,2341.5C793.4,2342.7 796.5,2344.0 799.6,2345.3C802.7,2346.6 805.8,2347.9 808.9,2349.2C812.0,2350.5 815.1,2351.8 818.2,2353.2C821.3,2354.6 824.4,2355.9 827.4,2357.3C830.5,2358.7 833.6,2360.1 836.6,2361.5C839.7,2363.0 842.8,2364.4 845.8,2365.8C848.8,2367.3 851.9,2368.7 854.9,2370.2C858.0,2371.7 861.0,2373.2 864.0,2374.7C867.0,2376.2 870.0,2377.7 873.0,2379.2C876.0,2380.8 879.0,2382.3 882.0,2383.8C885.0,2385.4 888.0,2387.0 891.0,2388.5C893.9,2390.1 896.9,2391.7 899.9,2393.3C902.8,2394.9 905.8,2396.6 908.7,2398.2C911.7,2399.8 914.6,2401.5 917.5,2403.1C920.4,2404.8 923.4,2406.5 926.3,2408.2C929.2,2409.8 932.1,2411.5 935.0,2413.3C937.9,2415.0 940.7,2416.7 943.6,2418.4C946.5,2420.2 949.4,2421.9 952.2,2423.7C955.1,2425.5 957.9,2427.2 960.8,2429.0C963.6,2430.8 966.4,2432.6 969.3,2434.4C972.1,2436.3 974.9,2438.1 977.7,2439.9C980.5,2441.8 983.3,2443.6 986.1,2445.5C988.9,2447.4 991.6,2449.2 994.4,2451.1C997.2,2453.0 999.9,2454.9 1002.7,2456.9C1005.4,2458.8 1008.2,2460.7 1010.9,2462.7C1013.6,2464.6 1016.3,2466.6 1019.0,2468.5C1021.7,2470.5 1024.4,2472.5 1027.1,2474.5C1029.8,2476.5 1032.5,2478.5 1035.2,2480.5C1037.8,2482.5 1040.5,2484.6 1043.1,2486.6C1045.8,2488.7 1048.4,2490.7 1051.0,2492.8C1053.7,2494.9 1056.3,2497.0 1058.9,2499.1C1061.5,2501.2 1064.1,2503.3 1066.7,2505.4C1069.3,2507.5 1071.8,2509.6 1074.4,2511.8C1077.0,2513.9 1079.5,2516.1 1082.0,2518.3C1084.6,2520.4 1087.1,2522.6 1089.6,2524.8C1092.1,2527.0 1094.6,2529.2 1097.1,2531.5C1099.6,2533.7 1102.1,2535.9 1104.6,2538.2C1107.1,2540.4 1109.5,2542.7 1112.0,2544.9C1114.4,2547.2 1116.9,2549.5 1119.3,2551.8C1121.7,2554.1 1124.1,2556.4 1126.5,2558.7C1128.9,2561.0 1131.3,2563.4 1133.7,2565.7C1136.1,2568.0 1138.4,2570.4 1140.8,2572.8C1143.1,2575.1 1145.5,2577.5 1147.8,2579.9C1150.1,2582.3 1152.4,2584.7 1154.7,2587.1C1157.0,2589.5 1159.3,2592.0 1161.6,2594.4C1163.9,2596.9 1166.1,2599.3 1168.4,2601.8C1170.6,2604.2 1174.0,2608.0 1175.1,2609.2" fill="none" stroke="#000" stroke-width="2.2" stroke-linejoin="round" stroke-linecap="butt"/>
<path d="M319.5,2740.0L322.5,2736.2L330.0,2735.8L336.2,2741.2L345.0,2738.8L360.0,2738.2L375.0,2741.2L383.8,2738.8L386.2,2730.0C387.3,2728.8 389.4,2725.5 392.5,2723.0C395.6,2720.5 399.6,2718.3 405.0,2715.0C410.4,2711.7 421.7,2705.0 425.0,2703.0C426.5,2702.2 431.1,2700.0 434.1,2698.5C437.1,2697.0 440.2,2695.6 443.3,2694.1C446.3,2692.7 449.4,2691.3 452.4,2689.9C455.5,2688.5 458.6,2687.1 461.7,2685.8C464.8,2684.4 467.8,2683.1 470.9,2681.8C474.0,2680.5 477.1,2679.2 480.2,2678.0C483.3,2676.7 486.5,2675.5 489.6,2674.3C492.7,2673.0 495.8,2671.9 498.9,2670.7C502.1,2669.5 505.2,2668.3 508.3,2667.2C511.5,2666.1 514.6,2665.0 517.8,2663.9C520.9,2662.8 524.1,2661.7 527.2,2660.6C530.4,2659.6 533.5,2658.5 536.7,2657.5C539.9,2656.5 543.0,2655.5 546.2,2654.5C549.4,2653.5 552.6,2652.6 555.8,2651.6C558.9,2650.7 562.1,2649.7 565.3,2648.8C568.5,2647.9 571.7,2647.0 574.9,2646.2C578.1,2645.3 581.3,2644.4 584.5,2643.6C587.7,2642.7 590.9,2641.9 594.1,2641.1C597.4,2640.3 600.6,2639.5 603.8,2638.8C607.0,2638.0 610.2,2637.2 613.5,2636.5C616.7,2635.7 619.9,2635.0 623.2,2634.3C626.4,2633.6 629.6,2632.9 632.9,2632.2C636.1,2631.6 639.3,2630.9 642.6,2630.3C645.8,2629.6 649.1,2629.0 652.3,2628.4C655.6,2627.7 658.8,2627.1 662.1,2626.5C665.3,2626.0 668.6,2625.4 671.9,2624.8C675.1,2624.3 678.4,2623.7 681.6,2623.2C684.9,2622.7 688.2,2622.1 691.4,2621.6C694.7,2621.1 698.0,2620.6 701.2,2620.2C704.5,2619.7 707.8,2619.2 711.1,2618.8C714.3,2618.3 717.6,2617.9 720.9,2617.4C724.2,2617.0 727.5,2616.6 730.8,2616.2C734.0,2615.8 737.3,2615.4 740.6,2615.0C743.9,2614.6 747.2,2614.3 750.5,2613.9C753.8,2613.5 757.1,2613.2 760.4,2612.9C763.7,2612.5 767.0,2612.2 770.3,2611.9C773.6,2611.6 776.9,2611.3 780.2,2611.0C783.5,2610.7 786.8,2610.4 790.1,2610.1C793.4,2609.8 796.7,2609.6 800.0,2609.3C803.3,2609.1 806.6,2608.8 809.9,2608.6C813.3,2608.3 816.6,2608.1 819.9,2607.9C823.2,2607.7 826.5,2607.5 829.8,2607.3C833.2,2607.1 836.5,2606.9 839.8,2606.7C843.1,2606.5 846.5,2606.3 849.8,2606.2C853.1,2606.0 856.4,2605.8 859.8,2605.7C863.1,2605.5 866.4,2605.4 869.7,2605.2C873.1,2605.1 876.4,2604.9 879.7,2604.8C883.1,2604.7 886.4,2604.6 889.7,2604.5C893.1,2604.3 896.4,2604.2 899.8,2604.1C903.1,2604.0 906.4,2603.9 909.8,2603.8C913.1,2603.7 916.4,2603.7 919.8,2603.6C923.1,2603.5 926.5,2603.4 929.8,2603.4C933.2,2603.3 936.5,2603.2 939.9,2603.2C943.2,2603.1 946.5,2603.0 949.9,2603.0C953.2,2602.9 956.6,2602.9 959.9,2602.8C963.3,2602.8 966.6,2602.7 970.0,2602.7C973.3,2602.7 976.7,2602.6 980.0,2602.6C983.4,2602.6 986.7,2602.5 990.1,2602.5C993.4,2602.5 996.8,2602.5 1000.2,2602.5C1003.5,2602.4 1006.9,2602.4 1010.2,2602.4C1013.6,2602.4 1016.9,2602.4 1020.3,2602.4C1023.6,2602.3 1027.0,2602.3 1030.4,2602.3C1033.7,2602.3 1037.1,2602.3 1040.4,2602.3C1043.8,2602.3 1047.1,2602.3 1050.5,2602.3C1053.9,2602.3 1057.2,2602.3 1060.6,2602.3C1063.9,2602.3 1067.3,2602.3 1070.7,2602.3C1074.0,2602.2 1077.4,2602.2 1080.7,2602.2C1084.1,2602.2 1087.5,2602.2 1090.8,2602.2C1094.2,2602.2 1097.5,2602.2 1100.9,2602.2C1104.3,2602.2 1107.6,2602.2 1111.0,2602.2C1114.3,2602.2 1117.7,2602.1 1121.1,2602.1C1124.4,2602.1 1127.8,2602.1 1131.1,2602.1C1134.5,2602.1 1137.9,2602.1 1141.2,2602.1C1144.6,2602.1 1147.9,2602.0 1151.3,2602.0C1154.6,2602.0 1158.0,2602.0 1161.4,2602.0C1164.7,2602.0 1168.1,2602.0 1171.4,2602.0C1174.8,2602.0 1178.2,2602.0 1181.5,2602.0C1184.9,2602.0 1188.2,2602.0 1191.6,2602.0C1194.9,2602.0 1198.3,2602.0 1201.6,2602.0C1205.0,2602.0 1208.4,2602.0 1211.7,2602.0C1215.1,2602.0 1218.4,2602.0 1221.8,2602.1C1225.1,2602.1 1228.5,2602.1 1231.8,2602.1C1235.2,2602.2 1238.5,2602.2 1241.9,2602.2C1245.2,2602.3 1248.6,2602.3 1251.9,2602.3C1255.3,2602.4 1258.6,2602.4 1262.0,2602.5C1265.3,2602.5 1268.7,2602.6 1272.0,2602.7C1275.3,2602.7 1278.7,2602.8 1282.0,2602.9C1285.4,2602.9 1288.7,2603.0 1292.1,2603.1C1295.4,2603.2 1298.7,2603.3 1302.1,2603.4C1305.4,2603.5 1308.7,2603.6 1312.1,2603.7C1315.4,2603.8 1318.8,2603.9 1322.1,2604.1C1325.4,2604.2 1328.8,2604.3 1332.1,2604.5C1335.4,2604.6 1338.7,2604.7 1342.1,2604.9C1345.4,2605.1 1348.7,2605.2 1352.1,2605.4C1355.4,2605.6 1358.7,2605.7 1362.0,2605.9C1365.3,2606.1 1368.7,2606.3 1372.0,2606.5C1375.3,2606.7 1378.6,2606.9 1381.9,2607.2C1385.3,2607.4 1388.6,2607.6 1391.9,2607.9C1395.2,2608.1 1398.5,2608.4 1401.8,2608.6C1405.1,2608.9 1408.4,2609.2 1411.7,2609.5C1415.0,2609.7 1418.4,2610.0 1421.7,2610.3C1425.0,2610.7 1428.3,2611.0 1431.6,2611.3C1434.9,2611.6 1438.2,2612.0 1441.4,2612.3C1444.7,2612.7 1448.0,2613.0 1451.3,2613.4C1454.6,2613.8 1457.9,2614.2 1461.2,2614.6C1464.5,2615.0 1467.8,2615.4 1471.1,2615.8C1474.3,2616.2 1477.6,2616.7 1480.9,2617.1C1484.2,2617.6 1487.4,2618.0 1490.7,2618.5C1494.0,2619.0 1497.3,2619.5 1500.5,2620.0C1503.8,2620.5 1507.1,2621.0 1510.3,2621.6C1513.6,2622.1 1516.9,2622.6 1520.1,2623.2C1523.4,2623.8 1526.6,2624.3 1529.9,2624.9C1533.2,2625.5 1536.4,2626.1 1539.7,2626.8C1542.9,2627.4 1546.2,2628.0 1549.4,2628.7C1552.7,2629.3 1555.9,2630.0 1559.1,2630.7C1562.4,2631.4 1565.6,2632.1 1568.8,2632.8C1572.1,2633.5 1575.3,2634.3 1578.5,2635.0C1581.8,2635.8 1585.0,2636.5 1588.2,2637.3C1591.4,2638.1 1594.7,2638.9 1597.9,2639.7C1601.1,2640.6 1604.3,2641.4 1607.5,2642.3C1610.7,2643.1 1613.9,2644.0 1617.2,2644.9C1620.4,2645.8 1623.6,2646.7 1626.8,2647.6C1630.0,2648.5 1633.1,2649.5 1636.3,2650.4C1639.5,2651.4 1642.7,2652.4 1645.9,2653.4C1649.1,2654.3 1652.2,2655.4 1655.4,2656.4C1658.6,2657.4 1661.8,2658.5 1664.9,2659.5C1668.1,2660.6 1671.2,2661.7 1674.4,2662.7C1677.5,2663.8 1680.7,2665.0 1683.8,2666.1C1687.0,2667.2 1690.1,2668.3 1693.2,2669.5C1696.4,2670.7 1699.5,2671.8 1702.6,2673.0C1705.7,2674.2 1708.8,2675.4 1711.9,2676.7C1715.1,2677.9 1718.2,2679.1 1721.2,2680.4C1724.3,2681.7 1727.4,2682.9 1730.5,2684.2C1733.6,2685.5 1736.7,2686.8 1739.7,2688.2C1742.8,2689.5 1745.9,2690.8 1748.9,2692.2C1752.0,2693.5 1755.0,2694.9 1758.0,2696.3C1761.1,2697.7 1764.1,2699.1 1767.1,2700.5C1770.2,2701.9 1773.2,2703.4 1776.2,2704.8C1779.2,2706.3 1782.2,2707.8 1785.2,2709.2C1788.2,2710.7 1791.1,2712.2 1794.1,2713.8C1797.1,2715.3 1800.1,2716.8 1803.0,2718.4C1806.0,2719.9 1808.9,2721.5 1811.9,2723.1C1814.8,2724.7 1817.7,2726.3 1820.6,2727.9C1823.6,2729.5 1826.5,2731.1 1829.4,2732.8C1832.3,2734.4 1835.2,2736.1 1838.0,2737.8C1840.9,2739.5 1843.8,2741.2 1846.7,2742.9C1849.5,2744.6 1852.4,2746.4 1855.2,2748.2C1858.1,2749.9 1860.9,2751.7 1863.7,2753.5C1866.5,2755.3 1869.3,2757.1 1872.1,2758.9C1874.9,2760.8 1877.7,2762.6 1880.5,2764.5C1883.3,2766.4 1886.0,2768.3 1888.8,2770.2C1891.5,2772.1 1895.6,2775.0 1897.0,2776.0" fill="none" stroke="#000" stroke-width="2.2" stroke-linejoin="round" stroke-linecap="butt"/>
<path d="M317.5,3843.0L321.2,3710.0L325.0,3540.0L328.8,3420.0L331.8,3285.0L333.8,3200.0C334.0,3198.3 334.2,3193.1 335.0,3190.0C335.8,3186.9 337.1,3183.5 338.8,3181.2C340.4,3179.0 342.7,3176.8 345.0,3176.8C347.3,3176.8 349.6,3180.0 352.5,3181.2C355.4,3182.5 358.8,3184.4 362.5,3184.5C366.2,3184.6 368.8,3183.2 375.0,3182.0C381.2,3180.8 395.8,3178.2 400.0,3177.5C401.6,3177.1 406.5,3176.0 409.7,3175.2C413.0,3174.5 416.2,3173.7 419.5,3173.0C422.8,3172.3 426.1,3171.6 429.4,3170.9C432.7,3170.2 436.0,3169.5 439.3,3168.8C442.7,3168.1 446.0,3167.5 449.3,3166.9C452.7,3166.2 456.0,3165.6 459.3,3165.0C462.7,3164.5 466.0,3163.9 469.4,3163.4C472.8,3162.8 476.1,3162.3 479.5,3161.9C482.8,3161.4 486.2,3160.9 489.6,3160.5C492.9,3160.1 496.3,3159.7 499.7,3159.4C503.0,3159.0 506.4,3158.7 509.8,3158.4C513.1,3158.2 516.5,3157.9 519.8,3157.7C523.2,3157.5 526.5,3157.4 529.9,3157.3C533.2,3157.1 536.6,3157.1 539.9,3157.0C543.2,3157.0 546.6,3157.0 549.9,3157.1C553.2,3157.2 556.5,3157.3 559.8,3157.5C563.1,3157.6 566.4,3157.9 569.7,3158.1C573.0,3158.4 576.2,3158.8 579.5,3159.1C582.7,3159.5 586.0,3160.0 589.2,3160.5C592.4,3161.0 595.6,3161.6 598.8,3162.2C602.0,3162.8 605.2,3163.5 608.3,3164.3C611.5,3165.0 614.6,3165.9 617.8,3166.8C620.9,3167.7 624.0,3168.6 627.1,3169.6C630.1,3170.7 633.2,3171.8 636.2,3173.0C639.3,3174.1 642.3,3175.4 645.3,3176.7C648.3,3178.0 651.2,3179.4 654.2,3180.9C657.1,3182.4 660.0,3183.9 662.9,3185.5C665.8,3187.1 668.7,3188.7 671.6,3190.4C674.4,3192.1 677.3,3193.9 680.1,3195.7C682.9,3197.5 685.7,3199.4 688.4,3201.3C691.2,3203.2 693.9,3205.2 696.6,3207.2C699.4,3209.2 702.1,3211.3 704.7,3213.4C707.4,3215.5 710.1,3217.6 712.7,3219.8C715.3,3221.9 717.9,3224.1 720.5,3226.4C723.1,3228.6 725.6,3230.9 728.2,3233.2C730.7,3235.4 733.2,3237.8 735.7,3240.1C738.2,3242.4 740.7,3244.8 743.1,3247.2C745.6,3249.6 748.0,3252.0 750.4,3254.4C752.8,3256.8 755.2,3259.3 757.5,3261.8C759.9,3264.2 762.2,3266.7 764.5,3269.2C766.8,3271.7 769.1,3274.3 771.4,3276.8C773.7,3279.3 775.9,3281.9 778.1,3284.5C780.3,3287.0 782.5,3289.6 784.7,3292.2C786.9,3294.8 789.1,3297.5 791.2,3300.1C793.3,3302.7 795.4,3305.3 797.5,3308.0C799.6,3310.7 801.7,3313.3 803.7,3316.0C805.7,3318.7 807.8,3321.4 809.8,3324.1C811.8,3326.8 813.7,3329.5 815.7,3332.2C817.6,3334.9 819.6,3337.7 821.5,3340.4C823.4,3343.1 825.3,3345.9 827.1,3348.7C829.0,3351.4 830.8,3354.2 832.7,3357.0C834.5,3359.8 836.3,3362.6 838.1,3365.4C839.8,3368.2 841.6,3371.1 843.3,3373.9C845.1,3376.7 846.8,3379.6 848.4,3382.4C850.1,3385.3 851.8,3388.2 853.4,3391.0C855.1,3393.9 856.7,3396.8 858.3,3399.7C859.9,3402.6 861.5,3405.5 863.0,3408.4C864.6,3411.3 866.1,3414.2 867.6,3417.2C869.1,3420.1 871.4,3424.5 872.1,3426.0" fill="none" stroke="#000" stroke-width="2.2" stroke-linejoin="round" stroke-linecap="butt"/>
<path d="M331.8,3285.0C332.3,3282.9 333.6,3276.7 335.0,3272.5C336.4,3268.3 338.1,3263.2 340.0,3260.0C341.9,3256.8 344.4,3253.5 346.2,3253.2C348.1,3253.0 349.8,3256.0 351.2,3258.8C352.7,3261.5 353.8,3267.5 355.0,3270.0C356.2,3272.5 355.4,3273.4 358.8,3273.8C362.1,3274.1 368.1,3272.5 375.0,3272.0C381.9,3271.5 395.8,3271.0 400.0,3270.8C401.7,3270.7 406.8,3270.7 410.2,3270.6C413.6,3270.5 417.0,3270.3 420.3,3270.2C423.7,3270.0 427.1,3269.8 430.5,3269.5C433.9,3269.3 437.3,3269.0 440.7,3268.7C444.1,3268.4 447.4,3268.1 450.8,3267.7C454.2,3267.4 457.6,3267.0 460.9,3266.7C464.3,3266.3 467.7,3265.9 471.1,3265.6C474.4,3265.2 477.8,3264.8 481.1,3264.5C484.5,3264.1 487.9,3263.7 491.2,3263.4C494.5,3263.0 497.9,3262.7 501.2,3262.3C504.6,3262.0 507.9,3261.7 511.2,3261.4C514.6,3261.1 517.9,3260.9 521.2,3260.7C524.5,3260.5 527.8,3260.3 531.1,3260.1C534.4,3260.0 537.7,3259.8 541.0,3259.8C544.3,3259.7 547.5,3259.7 550.8,3259.7C554.1,3259.8 557.3,3259.9 560.6,3260.0C563.9,3260.2 567.1,3260.4 570.3,3260.6C573.6,3260.9 576.8,3261.3 580.0,3261.7C583.2,3262.1 586.4,3262.6 589.6,3263.2C592.8,3263.7 596.0,3264.4 599.2,3265.1C602.3,3265.8 605.5,3266.5 608.7,3267.4C611.8,3268.2 614.9,3269.1 618.1,3270.0C621.2,3271.0 624.3,3272.0 627.4,3273.1C630.5,3274.2 633.6,3275.3 636.7,3276.5C639.8,3277.7 642.8,3279.0 645.9,3280.3C648.9,3281.5 652.0,3282.9 655.0,3284.3C658.0,3285.7 661.0,3287.1 664.0,3288.6C667.0,3290.1 670.0,3291.7 672.9,3293.2C675.9,3294.8 678.9,3296.4 681.8,3298.1C684.7,3299.7 687.6,3301.4 690.5,3303.2C693.4,3304.9 696.3,3306.7 699.2,3308.5C702.0,3310.3 704.9,3312.1 707.7,3314.0C710.6,3315.8 713.4,3317.7 716.2,3319.6C719.0,3321.5 721.7,3323.5 724.5,3325.5C727.3,3327.4 730.0,3329.4 732.7,3331.4C735.4,3333.4 738.1,3335.4 740.8,3337.5C743.5,3339.5 746.2,3341.6 748.8,3343.7C751.5,3345.8 754.1,3347.9 756.7,3350.0C759.3,3352.1 761.9,3354.3 764.5,3356.5C767.0,3358.6 769.6,3360.8 772.1,3363.0C774.6,3365.2 777.1,3367.4 779.6,3369.7C782.1,3371.9 784.6,3374.2 787.1,3376.5C789.5,3378.8 791.9,3381.1 794.4,3383.4C796.8,3385.7 799.2,3388.0 801.5,3390.4C803.9,3392.7 806.3,3395.1 808.6,3397.5C811.0,3399.9 813.3,3402.3 815.6,3404.7C817.9,3407.2 820.2,3409.6 822.4,3412.1C824.7,3414.5 826.9,3417.0 829.1,3419.5C831.4,3422.0 833.6,3424.5 835.7,3427.0C837.9,3429.5 840.1,3432.1 842.2,3434.6C844.4,3437.2 846.5,3439.8 848.6,3442.3C850.7,3444.9 852.8,3447.5 854.8,3450.2C856.9,3452.8 858.9,3455.4 861.0,3458.1C863.0,3460.7 865.0,3463.4 867.0,3466.0C869.0,3468.7 870.9,3471.4 872.9,3474.1C874.8,3476.8 876.7,3479.6 878.7,3482.3C880.6,3485.0 882.4,3487.8 884.3,3490.5C886.2,3493.3 888.0,3496.1 889.8,3498.9C891.7,3501.7 893.5,3504.5 895.3,3507.3C897.0,3510.1 898.8,3512.9 900.5,3515.8C902.3,3518.6 904.0,3521.5 905.7,3524.3C907.4,3527.2 909.1,3530.1 910.8,3533.0C912.4,3535.9 914.1,3538.8 915.7,3541.7C917.3,3544.6 918.9,3547.5 920.5,3550.5C922.1,3553.4 924.4,3557.8 925.2,3559.3" fill="none" stroke="#000" stroke-width="2.2" stroke-linejoin="round" stroke-linecap="butt"/>
<path d="M321.2,3710.0L337.5,3710.0L368.8,3702.0L385.0,3693.0L400.0,3689.2L416.2,3676.8L445.0,3662.5L463.8,3653.0L495.0,3645.5L527.5,3636.2L543.8,3628.0L575.0,3623.8L591.2,3620.5L625.0,3611.0L700.0,3597.5L800.0,3591.0L830.0,3587.5L910.0,3581.5L1050.0,3579.6L1225.8,3579.6L1309.6,3577.5L1393.5,3579.6L1547.2,3579.6L1625.5,3587.3L1706.6,3611.0L1737.3,3653.0L1769.5,3677.4L1784.8,3701.9L1801.6,3718.0L1810.0,3734.7" fill="none" stroke="#000" stroke-width="2.2" stroke-linejoin="round" stroke-linecap="butt"/>
<path d="M321.5,986.0L323.8,900.0L330.0,700.0L336.2,450.0L341.0,280.0" fill="none" stroke="#000" stroke-width="3.0" stroke-linejoin="round" stroke-linecap="butt"/>
<path d="M315.0,1937.0L317.0,1860.0L320.0,1752.5L323.2,1640.0L328.0,1450.0L334.5,1250.0" fill="none" stroke="#000" stroke-width="3.0" stroke-linejoin="round" stroke-linecap="butt"/>
<path d="M317.0,2895.0L319.5,2740.0L323.0,2600.0L325.0,2480.0L331.2,2310.0" fill="none" stroke="#000" stroke-width="3.0" stroke-linejoin="round" stroke-linecap="butt"/>
<path d="M317.5,3843.0L321.2,3710.0L325.0,3540.0L328.8,3420.0L331.8,3285.0" fill="none" stroke="#000" stroke-width="3.0" stroke-linejoin="round" stroke-linecap="butt"/>
</g>
<g id="axes">
<line x1="285.30" y1="49.15" x2="1997.50" y2="49.15" stroke="#000" stroke-width="5.6" stroke-linecap="round"/>
<line x1="312.90" y1="49.25" x2="312.90" y2="987.00" stroke="#000" stroke-width="5.4" stroke-linecap="butt"/>
<line x1="1997.50" y1="49.25" x2="1997.50" y2="987.00" stroke="#000" stroke-width="5.4" stroke-linecap="butt"/>
<line x1="310.20" y1="987.00" x2="2000.20" y2="987.00" stroke="#000" stroke-width="5.4" stroke-linecap="butt"/>
<line x1="284.90" y1="205.54" x2="312.90" y2="205.54" stroke="#000" stroke-width="4.6" stroke-linecap="round"/>
<line x1="284.90" y1="361.83" x2="312.90" y2="361.83" stroke="#000" stroke-width="4.6" stroke-linecap="round"/>
<line x1="284.90" y1="518.13" x2="312.90" y2="518.13" stroke="#000" stroke-width="4.6" stroke-linecap="round"/>
<line x1="284.90" y1="674.42" x2="312.90" y2="674.42" stroke="#000" stroke-width="4.6" stroke-linecap="round"/>
<line x1="284.90" y1="830.71" x2="312.90" y2="830.71" stroke="#000" stroke-width="4.6" stroke-linecap="round"/>
<line x1="298.70" y1="127.40" x2="312.90" y2="127.40" stroke="#000" stroke-width="4.6" stroke-linecap="round"/>
<line x1="298.70" y1="283.69" x2="312.90" y2="283.69" stroke="#000" stroke-width="4.6" stroke-linecap="round"/>
<line x1="298.70" y1="439.98" x2="312.90" y2="439.98" stroke="#000" stroke-width="4.6" stroke-linecap="round"/>
<line x1="298.70" y1="596.27" x2="312.90" y2="596.27" stroke="#000" stroke-width="4.6" stroke-linecap="round"/>
<line x1="298.70" y1="752.56" x2="312.90" y2="752.56" stroke="#000" stroke-width="4.6" stroke-linecap="round"/>
<line x1="298.70" y1="908.86" x2="312.90" y2="908.86" stroke="#000" stroke-width="4.6" stroke-linecap="round"/>
<line x1="406.22" y1="987.00" x2="406.22" y2="999.80" stroke="#000" stroke-width="4.6" stroke-linecap="round"/>
<line x1="499.84" y1="987.00" x2="499.84" y2="1013.30" stroke="#000" stroke-width="4.6" stroke-linecap="round"/>
<line x1="593.46" y1="987.00" x2="593.46" y2="999.80" stroke="#000" stroke-width="4.6" stroke-linecap="round"/>
<line x1="687.08" y1="987.00" x2="687.08" y2="1013.30" stroke="#000" stroke-width="4.6" stroke-linecap="round"/>
<line x1="780.70" y1="987.00" x2="780.70" y2="999.80" stroke="#000" stroke-width="4.6" stroke-linecap="round"/>
<line x1="874.32" y1="987.00" x2="874.32" y2="1013.30" stroke="#000" stroke-width="4.6" stroke-linecap="round"/>
<line x1="967.94" y1="987.00" x2="967.94" y2="999.80" stroke="#000" stroke-width="4.6" stroke-linecap="round"/>
<line x1="1061.56" y1="987.00" x2="1061.56" y2="1013.30" stroke="#000" stroke-width="4.6" stroke-linecap="round"/>
<line x1="1155.18" y1="987.00" x2="1155.18" y2="999.80" stroke="#000" stroke-width="4.6" stroke-linecap="round"/>
<line x1="1248.80" y1="987.00" x2="1248.80" y2="1013.30" stroke="#000" stroke-width="4.6" stroke-linecap="round"/>
<line x1="1342.42" y1="987.00" x2="1342.42" y2="999.80" stroke="#000" stroke-width="4.6" stroke-linecap="round"/>
<line x1="1436.04" y1="987.00" x2="1436.04" y2="1013.30" stroke="#000" stroke-width="4.6" stroke-linecap="round"/>
<line x1="1529.66" y1="987.00" x2="1529.66" y2="999.80" stroke="#000" stroke-width="4.6" stroke-linecap="round"/>
<line x1="1623.28" y1="987.00" x2="1623.28" y2="1013.30" stroke="#000" stroke-width="4.6" stroke-linecap="round"/>
<line x1="1716.90" y1="987.00" x2="1716.90" y2="999.80" stroke="#000" stroke-width="4.6" stroke-linecap="round"/>
<line x1="1810.52" y1="987.00" x2="1810.52" y2="1013.30" stroke="#000" stroke-width="4.6" stroke-linecap="round"/>
<line x1="1904.14" y1="987.00" x2="1904.14" y2="999.80" stroke="#000" stroke-width="4.6" stroke-linecap="round"/>
<line x1="313.00" y1="987.00" x2="313.00" y2="1936.90" stroke="#000" stroke-width="5.4" stroke-linecap="butt"/>
<line x1="1997.50" y1="987.00" x2="1997.50" y2="1936.90" stroke="#000" stroke-width="5.4" stroke-linecap="butt"/>
<line x1="310.30" y1="1936.90" x2="2000.20" y2="1936.90" stroke="#000" stroke-width="5.4" stroke-linecap="butt"/>
<line x1="299.70" y1="1936.90" x2="313.00" y2="1936.90" stroke="#000" stroke-width="4.6" stroke-linecap="round"/>
<line x1="285.00" y1="1078.60" x2="313.00" y2="1078.60" stroke="#000" stroke-width="4.6" stroke-linecap="round"/>
<line x1="285.00" y1="1234.56" x2="313.00" y2="1234.56" stroke="#000" stroke-width="4.6" stroke-linecap="round"/>
<line x1="285.00" y1="1390.52" x2="313.00" y2="1390.52" stroke="#000" stroke-width="4.6" stroke-linecap="round"/>
<line x1="285.00" y1="1546.48" x2="313.00" y2="1546.48" stroke="#000" stroke-width="4.6" stroke-linecap="round"/>
<line x1="285.00" y1="1702.44" x2="313.00" y2="1702.44" stroke="#000" stroke-width="4.6" stroke-linecap="round"/>
<line x1="285.00" y1="1858.40" x2="313.00" y2="1858.40" stroke="#000" stroke-width="4.6" stroke-linecap="round"/>
<line x1="298.80" y1="1000.62" x2="313.00" y2="1000.62" stroke="#000" stroke-width="4.6" stroke-linecap="round"/>
<line x1="298.80" y1="1156.58" x2="313.00" y2="1156.58" stroke="#000" stroke-width="4.6" stroke-linecap="round"/>
<line x1="298.80" y1="1312.54" x2="313.00" y2="1312.54" stroke="#000" stroke-width="4.6" stroke-linecap="round"/>
<line x1="298.80" y1="1468.50" x2="313.00" y2="1468.50" stroke="#000" stroke-width="4.6" stroke-linecap="round"/>
<line x1="298.80" y1="1624.46" x2="313.00" y2="1624.46" stroke="#000" stroke-width="4.6" stroke-linecap="round"/>
<line x1="298.80" y1="1780.42" x2="313.00" y2="1780.42" stroke="#000" stroke-width="4.6" stroke-linecap="round"/>
<line x1="406.22" y1="1936.90" x2="406.22" y2="1949.70" stroke="#000" stroke-width="4.6" stroke-linecap="round"/>
<line x1="499.84" y1="1936.90" x2="499.84" y2="1963.20" stroke="#000" stroke-width="4.6" stroke-linecap="round"/>
<line x1="593.46" y1="1936.90" x2="593.46" y2="1949.70" stroke="#000" stroke-width="4.6" stroke-linecap="round"/>
<line x1="687.08" y1="1936.90" x2="687.08" y2="1963.20" stroke="#000" stroke-width="4.6" stroke-linecap="round"/>
<line x1="780.70" y1="1936.90" x2="780.70" y2="1949.70" stroke="#000" stroke-width="4.6" stroke-linecap="round"/>
<line x1="874.32" y1="1936.90" x2="874.32" y2="1963.20" stroke="#000" stroke-width="4.6" stroke-linecap="round"/>
<line x1="967.94" y1="1936.90" x2="967.94" y2="1949.70" stroke="#000" stroke-width="4.6" stroke-linecap="round"/>
<line x1="1061.56" y1="1936.90" x2="1061.56" y2="1963.20" stroke="#000" stroke-width="4.6" stroke-linecap="round"/>
<line x1="1155.18" y1="1936.90" x2="1155.18" y2="1949.70" stroke="#000" stroke-width="4.6" stroke-linecap="round"/>
<line x1="1248.80" y1="1936.90" x2="1248.80" y2="1963.20" stroke="#000" stroke-width="4.6" stroke-linecap="round"/>
<line x1="1342.42" y1="1936.90" x2="1342.42" y2="1949.70" stroke="#000" stroke-width="4.6" stroke-linecap="round"/>
<line x1="1436.04" y1="1936.90" x2="1436.04" y2="1963.20" stroke="#000" stroke-width="4.6" stroke-linecap="round"/>
<line x1="1529.66" y1="1936.90" x2="1529.66" y2="1949.70" stroke="#000" stroke-width="4.6" stroke-linecap="round"/>
<line x1="1623.28" y1="1936.90" x2="1623.28" y2="1963.20" stroke="#000" stroke-width="4.6" stroke-linecap="round"/>
<line x1="1716.90" y1="1936.90" x2="1716.90" y2="1949.70" stroke="#000" stroke-width="4.6" stroke-linecap="round"/>
<line x1="1810.52" y1="1936.90" x2="1810.52" y2="1963.20" stroke="#000" stroke-width="4.6" stroke-linecap="round"/>
<line x1="1904.14" y1="1936.90" x2="1904.14" y2="1949.70" stroke="#000" stroke-width="4.6" stroke-linecap="round"/>
<line x1="313.00" y1="1936.90" x2="313.00" y2="2895.50" stroke="#000" stroke-width="5.4" stroke-linecap="butt"/>
<line x1="1997.50" y1="1936.90" x2="1997.50" y2="2923.50" stroke="#000" stroke-width="5.4" stroke-linecap="butt"/>
<line x1="310.30" y1="2895.50" x2="2000.20" y2="2895.50" stroke="#000" stroke-width="5.4" stroke-linecap="butt"/>
<line x1="299.70" y1="2895.50" x2="313.00" y2="2895.50" stroke="#000" stroke-width="4.6" stroke-linecap="round"/>
<line x1="285.00" y1="2036.25" x2="313.00" y2="2036.25" stroke="#000" stroke-width="4.6" stroke-linecap="round"/>
<line x1="285.00" y1="2192.30" x2="313.00" y2="2192.30" stroke="#000" stroke-width="4.6" stroke-linecap="round"/>
<line x1="285.00" y1="2348.35" x2="313.00" y2="2348.35" stroke="#000" stroke-width="4.6" stroke-linecap="round"/>
<line x1="285.00" y1="2504.40" x2="313.00" y2="2504.40" stroke="#000" stroke-width="4.6" stroke-linecap="round"/>
<line x1="285.00" y1="2660.45" x2="313.00" y2="2660.45" stroke="#000" stroke-width="4.6" stroke-linecap="round"/>
<line x1="285.00" y1="2816.50" x2="313.00" y2="2816.50" stroke="#000" stroke-width="4.6" stroke-linecap="round"/>
<line x1="298.80" y1="1958.22" x2="313.00" y2="1958.22" stroke="#000" stroke-width="4.6" stroke-linecap="round"/>
<line x1="298.80" y1="2114.28" x2="313.00" y2="2114.28" stroke="#000" stroke-width="4.6" stroke-linecap="round"/>
<line x1="298.80" y1="2270.32" x2="313.00" y2="2270.32" stroke="#000" stroke-width="4.6" stroke-linecap="round"/>
<line x1="298.80" y1="2426.38" x2="313.00" y2="2426.38" stroke="#000" stroke-width="4.6" stroke-linecap="round"/>
<line x1="298.80" y1="2582.43" x2="313.00" y2="2582.43" stroke="#000" stroke-width="4.6" stroke-linecap="round"/>
<line x1="298.80" y1="2738.47" x2="313.00" y2="2738.47" stroke="#000" stroke-width="4.6" stroke-linecap="round"/>
<line x1="406.22" y1="2895.50" x2="406.22" y2="2908.30" stroke="#000" stroke-width="4.6" stroke-linecap="round"/>
<line x1="499.84" y1="2895.50" x2="499.84" y2="2921.80" stroke="#000" stroke-width="4.6" stroke-linecap="round"/>
<line x1="593.46" y1="2895.50" x2="593.46" y2="2908.30" stroke="#000" stroke-width="4.6" stroke-linecap="round"/>
<line x1="687.08" y1="2895.50" x2="687.08" y2="2921.80" stroke="#000" stroke-width="4.6" stroke-linecap="round"/>
<line x1="780.70" y1="2895.50" x2="780.70" y2="2908.30" stroke="#000" stroke-width="4.6" stroke-linecap="round"/>
<line x1="874.32" y1="2895.50" x2="874.32" y2="2921.80" stroke="#000" stroke-width="4.6" stroke-linecap="round"/>
<line x1="967.94" y1="2895.50" x2="967.94" y2="2908.30" stroke="#000" stroke-width="4.6" stroke-linecap="round"/>
<line x1="1061.56" y1="2895.50" x2="1061.56" y2="2921.80" stroke="#000" stroke-width="4.6" stroke-linecap="round"/>
<line x1="1155.18" y1="2895.50" x2="1155.18" y2="2908.30" stroke="#000" stroke-width="4.6" stroke-linecap="round"/>
<line x1="1248.80" y1="2895.50" x2="1248.80" y2="2921.80" stroke="#000" stroke-width="4.6" stroke-linecap="round"/>
<line x1="1342.42" y1="2895.50" x2="1342.42" y2="2908.30" stroke="#000" stroke-width="4.6" stroke-linecap="round"/>
<line x1="1436.04" y1="2895.50" x2="1436.04" y2="2921.80" stroke="#000" stroke-width="4.6" stroke-linecap="round"/>
<line x1="1529.66" y1="2895.50" x2="1529.66" y2="2908.30" stroke="#000" stroke-width="4.6" stroke-linecap="round"/>
<line x1="1623.28" y1="2895.50" x2="1623.28" y2="2921.80" stroke="#000" stroke-width="4.6" stroke-linecap="round"/>
<line x1="1716.90" y1="2895.50" x2="1716.90" y2="2908.30" stroke="#000" stroke-width="4.6" stroke-linecap="round"/>
<line x1="1810.52" y1="2895.50" x2="1810.52" y2="2921.80" stroke="#000" stroke-width="4.6" stroke-linecap="round"/>
<line x1="1904.14" y1="2895.50" x2="1904.14" y2="2908.30" stroke="#000" stroke-width="4.6" stroke-linecap="round"/>
<line x1="314.75" y1="2895.50" x2="314.75" y2="3843.50" stroke="#000" stroke-width="5.4" stroke-linecap="butt"/>
<line x1="1999.60" y1="2905.00" x2="1999.60" y2="3843.50" stroke="#000" stroke-width="5.4" stroke-linecap="butt"/>
<line x1="312.05" y1="3843.50" x2="2002.30" y2="3843.50" stroke="#000" stroke-width="5.4" stroke-linecap="butt"/>
<line x1="301.70" y1="3843.50" x2="314.75" y2="3843.50" stroke="#000" stroke-width="4.6" stroke-linecap="round"/>
<line x1="286.75" y1="2984.50" x2="314.75" y2="2984.50" stroke="#000" stroke-width="4.6" stroke-linecap="round"/>
<line x1="286.75" y1="3140.60" x2="314.75" y2="3140.60" stroke="#000" stroke-width="4.6" stroke-linecap="round"/>
<line x1="286.75" y1="3296.70" x2="314.75" y2="3296.70" stroke="#000" stroke-width="4.6" stroke-linecap="round"/>
<line x1="286.75" y1="3452.80" x2="314.75" y2="3452.80" stroke="#000" stroke-width="4.6" stroke-linecap="round"/>
<line x1="286.75" y1="3608.90" x2="314.75" y2="3608.90" stroke="#000" stroke-width="4.6" stroke-linecap="round"/>
<line x1="286.75" y1="3765.00" x2="314.75" y2="3765.00" stroke="#000" stroke-width="4.6" stroke-linecap="round"/>
<line x1="300.55" y1="2906.45" x2="314.75" y2="2906.45" stroke="#000" stroke-width="4.6" stroke-linecap="round"/>
<line x1="300.55" y1="3062.55" x2="314.75" y2="3062.55" stroke="#000" stroke-width="4.6" stroke-linecap="round"/>
<line x1="300.55" y1="3218.65" x2="314.75" y2="3218.65" stroke="#000" stroke-width="4.6" stroke-linecap="round"/>
<line x1="300.55" y1="3374.75" x2="314.75" y2="3374.75" stroke="#000" stroke-width="4.6" stroke-linecap="round"/>
<line x1="300.55" y1="3530.85" x2="314.75" y2="3530.85" stroke="#000" stroke-width="4.6" stroke-linecap="round"/>
<line x1="300.55" y1="3686.95" x2="314.75" y2="3686.95" stroke="#000" stroke-width="4.6" stroke-linecap="round"/>
<line x1="314.65" y1="3843.50" x2="314.65" y2="3869.80" stroke="#000" stroke-width="4.6" stroke-linecap="round"/>
<line x1="408.25" y1="3843.50" x2="408.25" y2="3856.30" stroke="#000" stroke-width="4.6" stroke-linecap="round"/>
<line x1="501.85" y1="3843.50" x2="501.85" y2="3869.80" stroke="#000" stroke-width="4.6" stroke-linecap="round"/>
<line x1="595.45" y1="3843.50" x2="595.45" y2="3856.30" stroke="#000" stroke-width="4.6" stroke-linecap="round"/>
<line x1="689.05" y1="3843.50" x2="689.05" y2="3869.80" stroke="#000" stroke-width="4.6" stroke-linecap="round"/>
<line x1="782.65" y1="3843.50" x2="782.65" y2="3856.30" stroke="#000" stroke-width="4.6" stroke-linecap="round"/>
<line x1="876.25" y1="3843.50" x2="876.25" y2="3869.80" stroke="#000" stroke-width="4.6" stroke-linecap="round"/>
<line x1="969.85" y1="3843.50" x2="969.85" y2="3856.30" stroke="#000" stroke-width="4.6" stroke-linecap="round"/>
<line x1="1063.45" y1="3843.50" x2="1063.45" y2="3869.80" stroke="#000" stroke-width="4.6" stroke-linecap="round"/>
<line x1="1157.05" y1="3843.50" x2="1157.05" y2="3856.30" stroke="#000" stroke-width="4.6" stroke-linecap="round"/>
<line x1="1250.65" y1="3843.50" x2="1250.65" y2="3869.80" stroke="#000" stroke-width="4.6" stroke-linecap="round"/>
<line x1="1344.25" y1="3843.50" x2="1344.25" y2="3856.30" stroke="#000" stroke-width="4.6" stroke-linecap="round"/>
<line x1="1437.85" y1="3843.50" x2="1437.85" y2="3869.80" stroke="#000" stroke-width="4.6" stroke-linecap="round"/>
<line x1="1531.45" y1="3843.50" x2="1531.45" y2="3856.30" stroke="#000" stroke-width="4.6" stroke-linecap="round"/>
<line x1="1625.05" y1="3843.50" x2="1625.05" y2="3869.80" stroke="#000" stroke-width="4.6" stroke-linecap="round"/>
<line x1="1718.65" y1="3843.50" x2="1718.65" y2="3856.30" stroke="#000" stroke-width="4.6" stroke-linecap="round"/>
<line x1="1812.25" y1="3843.50" x2="1812.25" y2="3869.80" stroke="#000" stroke-width="4.6" stroke-linecap="round"/>
<line x1="1905.85" y1="3843.50" x2="1905.85" y2="3856.30" stroke="#000" stroke-width="4.6" stroke-linecap="round"/>
<line x1="1999.45" y1="3843.50" x2="1999.45" y2="3869.80" stroke="#000" stroke-width="4.6" stroke-linecap="round"/>
</g>
<line x1="257.50" y1="974.50" x2="350.00" y2="1018.25" stroke="#000" stroke-width="3.4" stroke-linecap="round"/>
<line x1="257.50" y1="1001.75" x2="350.00" y2="1045.25" stroke="#000" stroke-width="3.4" stroke-linecap="round"/>
<line x1="275.00" y1="1926.75" x2="353.25" y2="1984.25" stroke="#000" stroke-width="3.4" stroke-linecap="round"/>
<line x1="268.75" y1="1951.25" x2="353.25" y2="2012.00" stroke="#000" stroke-width="3.4" stroke-linecap="round"/>
<line x1="277.00" y1="2881.25" x2="360.00" y2="2922.00" stroke="#000" stroke-width="3.4" stroke-linecap="round"/>
<line x1="262.50" y1="2900.00" x2="365.00" y2="2947.50" stroke="#000" stroke-width="3.4" stroke-linecap="round"/>
<g font-family="'Liberation Sans', Arial, Helvetica, sans-serif" stroke="#000" stroke-width="0.5" stroke-linejoin="round" font-size="54.3" fill="#000">
<text transform="translate(268.20,64.45) scale(1,1.03)" text-anchor="end">1600</text>
<text transform="translate(268.20,220.74) scale(1,1.03)" text-anchor="end">1400</text>
<text transform="translate(268.20,377.03) scale(1,1.03)" text-anchor="end">1200</text>
<text transform="translate(268.20,533.33) scale(1,1.03)" text-anchor="end">1000</text>
<text transform="translate(268.20,689.62) scale(1,1.03)" text-anchor="end">800</text>
<text transform="translate(268.20,845.91) scale(1,1.03)" text-anchor="end">600</text>
<text transform="translate(268.20,1093.80) scale(1,1.03)" text-anchor="end">1200</text>
<text transform="translate(268.20,1249.76) scale(1,1.03)" text-anchor="end">1000</text>
<text transform="translate(268.20,1405.72) scale(1,1.03)" text-anchor="end">800</text>
<text transform="translate(268.20,1561.68) scale(1,1.03)" text-anchor="end">600</text>
<text transform="translate(268.20,1717.64) scale(1,1.03)" text-anchor="end">400</text>
<text transform="translate(268.20,1873.60) scale(1,1.03)" text-anchor="end">200</text>
<text transform="translate(268.20,2051.45) scale(1,1.03)" text-anchor="end">1200</text>
<text transform="translate(268.20,2207.50) scale(1,1.03)" text-anchor="end">1000</text>
<text transform="translate(268.20,2363.55) scale(1,1.03)" text-anchor="end">800</text>
<text transform="translate(268.20,2519.60) scale(1,1.03)" text-anchor="end">600</text>
<text transform="translate(268.20,2675.65) scale(1,1.03)" text-anchor="end">400</text>
<text transform="translate(268.20,2831.70) scale(1,1.03)" text-anchor="end">200</text>
<text transform="translate(271.20,2999.70) scale(1,1.03)" text-anchor="end">1200</text>
<text transform="translate(271.20,3155.80) scale(1,1.03)" text-anchor="end">1000</text>
<text transform="translate(271.20,3311.90) scale(1,1.03)" text-anchor="end">800</text>
<text transform="translate(271.20,3468.00) scale(1,1.03)" text-anchor="end">600</text>
<text transform="translate(271.20,3624.10) scale(1,1.03)" text-anchor="end">400</text>
<text transform="translate(271.20,3780.20) scale(1,1.03)" text-anchor="end">200</text>
<text transform="translate(314.95,3931.30) scale(1,1.03)" text-anchor="middle">0</text>
<text transform="translate(502.15,3931.30) scale(1,1.03)" text-anchor="middle">4</text>
<text transform="translate(689.35,3931.30) scale(1,1.03)" text-anchor="middle">8</text>
<text transform="translate(876.55,3931.30) scale(1,1.03)" text-anchor="middle">12</text>
<text transform="translate(1063.75,3931.30) scale(1,1.03)" text-anchor="middle">16</text>
<text transform="translate(1250.95,3931.30) scale(1,1.03)" text-anchor="middle">20</text>
<text transform="translate(1438.15,3931.30) scale(1,1.03)" text-anchor="middle">24</text>
<text transform="translate(1625.35,3931.30) scale(1,1.03)" text-anchor="middle">28</text>
<text transform="translate(1812.55,3931.30) scale(1,1.03)" text-anchor="middle">32</text>
<text transform="translate(1999.75,3931.30) scale(1,1.03)" text-anchor="middle">36</text>
</g>
<g font-family="'Liberation Sans', Arial, Helvetica, sans-serif" stroke="#000" stroke-width="0.5" stroke-linejoin="round" font-size="54.4" fill="#000">
<rect x="1797.90" y="81.50" width="159.40" height="95.20" fill="#fff" stroke="#000" stroke-width="3.2" stroke-linejoin="miter"/>
<text transform="translate(1821.78,147.00) scale(1,1.03)">77 K</text>
<rect x="1774.10" y="1027.10" width="195.00" height="94.50" fill="#fff" stroke="#000" stroke-width="3.2" stroke-linejoin="miter"/>
<text transform="translate(1800.03,1092.40) scale(1,1.03)">210 K</text>
<rect x="1793.90" y="1982.50" width="173.60" height="90.20" fill="#fff" stroke="#000" stroke-width="3.2" stroke-linejoin="miter"/>
<text transform="translate(1810.93,2046.20) scale(1,1.03)">293 K</text>
<rect x="1777.10" y="2929.50" width="193.80" height="93.90" fill="#fff" stroke="#000" stroke-width="3.2" stroke-linejoin="miter"/>
<text transform="translate(1804.17,2993.80) scale(1,1.03)">323 K</text>
</g>
<g font-family="'Liberation Sans', Arial, Helvetica, sans-serif" stroke="#000" stroke-width="0.5" stroke-linejoin="round" font-size="41.2" fill="#000">
<text transform="translate(995.00,231.80) scale(1,1.075)" font-size="41.2">UGF/C (steel B)</text>
<line x1="1087.70" y1="248.00" x2="1038.41" y2="279.90" stroke="#000" stroke-width="3.3" stroke-linecap="round"/>
<polygon points="1019.10,292.40 1036.39,273.11 1043.78,284.52" fill="#000"/>
<text transform="translate(761.23,414.30) scale(1,1.075)" font-size="41.45">UGF/C (steel A)</text>
<line x1="868.80" y1="429.90" x2="825.53" y2="467.67" stroke="#000" stroke-width="3.3" stroke-linecap="round"/>
<polygon points="808.20,482.80 822.56,461.24 831.51,471.48" fill="#000"/>
<text transform="translate(1182.38,732.30) scale(1,1.075)" font-size="41.6">CGF/P (steel A)</text>
<line x1="1287.30" y1="749.10" x2="1224.55" y2="798.65" stroke="#000" stroke-width="3.3" stroke-linecap="round"/>
<polygon points="1206.50,812.90 1221.91,792.07 1230.33,802.74" fill="#000"/>
<text transform="translate(845.00,1199.80) scale(1,1.075)" font-size="41.2">UGF/C (steel B)</text>
<line x1="953.20" y1="1213.20" x2="908.54" y2="1258.01" stroke="#000" stroke-width="3.3" stroke-linecap="round"/>
<polygon points="892.30,1274.30 905.13,1251.79 914.76,1261.39" fill="#000"/>
<text transform="translate(1010.73,1432.80) scale(1,1.075)" font-size="41.45">UGF/C (steel A)</text>
<line x1="1068.30" y1="1438.20" x2="1026.56" y2="1482.55" stroke="#000" stroke-width="3.3" stroke-linecap="round"/>
<polygon points="1010.80,1499.30 1022.98,1476.43 1032.89,1485.75" fill="#000"/>
<text transform="translate(1552.38,1495.20) scale(1,1.075)" font-size="41.6">CGF/P (steel A)</text>
<line x1="1653.30" y1="1503.80" x2="1630.62" y2="1565.61" stroke="#000" stroke-width="3.3" stroke-linecap="round"/>
<polygon points="1622.70,1587.20 1624.93,1561.39 1637.70,1566.07" fill="#000"/>
<text transform="translate(904.00,2232.80) scale(1,1.075)" font-size="41.2">UGF/C (steel B)</text>
<line x1="986.80" y1="2244.30" x2="936.48" y2="2289.11" stroke="#000" stroke-width="3.3" stroke-linecap="round"/>
<polygon points="919.30,2304.40 933.45,2282.70 942.49,2292.85" fill="#000"/>
<text transform="translate(1148.98,2482.20) scale(1,1.075)" font-size="41.45">UGF/C (steel A)</text>
<line x1="1197.50" y1="2492.50" x2="1149.98" y2="2531.51" stroke="#000" stroke-width="3.3" stroke-linecap="round"/>
<polygon points="1132.20,2546.10 1147.21,2524.98 1155.84,2535.49" fill="#000"/>
<text transform="translate(1521.88,2540.50) scale(1,1.075)" font-size="41.6">CGF/P (steel A)</text>
<line x1="1613.20" y1="2556.00" x2="1590.56" y2="2601.42" stroke="#000" stroke-width="3.3" stroke-linecap="round"/>
<polygon points="1580.30,2622.00 1585.37,2596.59 1597.54,2602.66" fill="#000"/>
<text transform="translate(673.25,3137.80) scale(1,1.075)" font-size="41.2">UGF/C (steel B)</text>
<line x1="767.50" y1="3156.30" x2="732.79" y2="3190.06" stroke="#000" stroke-width="3.3" stroke-linecap="round"/>
<polygon points="716.30,3206.10 729.48,3183.79 738.96,3193.54" fill="#000"/>
<text transform="translate(900.23,3416.50) scale(1,1.075)" font-size="41.45">UGF/C (steel A)</text>
<line x1="938.30" y1="3430.80" x2="909.04" y2="3465.84" stroke="#000" stroke-width="3.3" stroke-linecap="round"/>
<polygon points="894.30,3483.50 905.10,3459.95 915.54,3468.67" fill="#000"/>
<text transform="translate(1544.88,3473.00) scale(1,1.075)" font-size="41.6">CGF/P (steel A)</text>
<line x1="1592.50" y1="3491.20" x2="1563.79" y2="3543.99" stroke="#000" stroke-width="3.3" stroke-linecap="round"/>
<polygon points="1552.80,3564.20 1558.77,3538.99 1570.72,3545.49" fill="#000"/>
</g>
<g font-family="'Liberation Sans', Arial, Helvetica, sans-serif" stroke="#000" stroke-width="0.5" stroke-linejoin="round" font-size="66.9" fill="#000">
<text transform="translate(895.32,4051.30) scale(1,1.05)">Nominal strain, %</text>
<text transform="translate(80.2,3607.08) rotate(-90) scale(1,1.025)">Nominal stress, MP<tspan font-size="37.5" dy="24.39">a</tspan></text>
</g>
</svg>
</body></html>
